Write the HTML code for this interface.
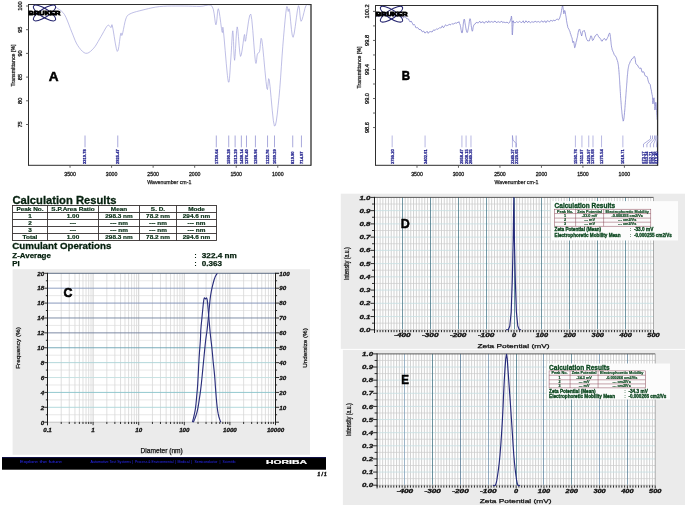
<!DOCTYPE html>
<html><head><meta charset="utf-8"><style>
html,body{margin:0;padding:0;background:#fff;}
body{width:685px;height:507px;overflow:hidden;}
svg{display:block;will-change:transform;}
text{font-family:"Liberation Sans", sans-serif;}
</style></head><body>
<svg width="685" height="507" viewBox="0 0 685 507">
<rect x="0" y="0" width="685" height="507" fill="#fff"/>
<polyline points="55,7.2 55.18,7.22 55.39,7.18 55.71,7.22 56.22,7.46 57,8 58.15,8.77 59.61,9.7 61.25,10.9 62.92,12.49 64.5,14.6 66,17.47 67.51,21.02 69,24.89 70.44,28.7 71.8,32.1 73.02,35.1 74.12,37.94 75.19,40.6 76.32,43.06 77.6,45.3 79.07,47.44 80.68,49.5 82.36,51.29 84.05,52.62 85.7,53.3 87.32,53.22 88.94,52.52 90.56,51.34 92.15,49.85 93.7,48.2 95.22,46.27 96.7,43.96 98.16,41.45 99.6,38.9 101,36.5 102.42,34.04 103.84,31.42 105.22,28.92 106.5,26.84 107.6,25.5 108.52,25.16 109.29,25.62 109.94,26.47 110.5,27.3 111,27.7 111.35,27.18 111.54,26 111.68,24.92 111.93,24.67 112.4,26 113.18,30.04 114.18,36.28 115.28,43.05 116.36,48.65 117.3,51.4 118.11,50.3 118.86,46.47 119.55,41.41 120.17,36.62 120.7,33.6 121.09,32.93 121.34,33.61 121.54,34.77 121.8,35.53 122.2,35 122.78,32.74 123.46,29.33 124.22,25.45 125.01,21.78 125.8,19 126.48,17.26 127.06,16.11 127.73,15.32 128.65,14.66 130,13.9 131.81,13.07 133.98,12.31 136.44,11.61 139.13,10.91 142,10.2 145.08,9.43 148.42,8.61 151.95,7.82 155.63,7.13 159.4,6.6 163.32,6.27 167.44,6.1 171.65,6.02 175.87,6.01 180,6 184.17,6.03 188.43,6.12 192.6,6.24 196.52,6.34 200,6.4 203.04,6.1 205.76,5.46 208.17,4.96 210.25,5.05 212,6.2 213.32,9.27 214.21,13.95 214.83,18.96 215.34,23 215.9,24.8 216.47,23.17 216.94,18.95 217.38,13.95 217.85,9.93 218.4,8.7 219.1,11.3 219.91,16.53 220.74,22.83 221.5,28.62 222.1,32.3 222.44,32.6 222.58,30.56 222.67,28.12 222.86,27.22 223.3,29.8 224.1,37.93 225.15,50.31 226.3,63.84 227.4,75.41 228.3,81.9 228.97,82.2 229.5,78.39 229.96,72.14 230.37,65.12 230.8,59 231.24,52.78 231.65,45.33 232.04,38.18 232.42,32.83 232.8,30.8 233.16,34.01 233.5,41.46 233.83,50.26 234.19,57.5 234.6,60.3 235.06,56.64 235.55,48.45 236.07,38.75 236.62,30.56 237.2,26.9 237.81,29.6 238.44,36.63 239.1,45.27 239.79,52.78 240.5,56.4 241.28,54.87 242.15,50.02 243.01,43.75 243.78,37.98 244.4,34.6 244.75,34.61 244.88,36.73 244.96,39.48 245.15,41.4 245.6,41 246.39,36.56 247.42,29.07 248.57,21.11 249.73,15.26 250.8,14.1 251.8,19.7 252.81,30.35 253.78,42.93 254.66,54.34 255.4,61.5 255.96,63.44 256.38,62.22 256.71,59.29 257.03,56.07 257.4,54 257.83,53.3 258.27,53 258.71,52.79 259.16,52.33 259.6,51.3 259.99,48.58 260.34,44.4 260.71,40.42 261.17,38.3 261.8,39.7 262.68,46.52 263.77,57.65 264.92,70.24 266.01,81.47 266.9,88.5 267.49,89.51 267.88,86.4 268.21,81.88 268.6,78.67 269.2,79.5 270.06,86.45 271.1,97.71 272.22,110.14 273.35,120.62 274.4,126 275.37,125.45 276.32,121.05 277.25,114.07 278.14,105.77 279,97.4 279.81,88.39 280.59,77.9 281.33,66.8 282.07,55.94 282.8,46.2 283.56,37.13 284.34,28.15 285.1,19.93 285.8,13.13 286.4,8.4 286.88,6.47 287.27,6.91 287.6,8.61 287.9,10.51 288.2,11.5 288.46,11.07 288.65,9.93 288.84,8.89 289.1,8.71 289.5,10.2 290.05,14.74 290.69,21.81 291.43,29.32 292.23,35.18 293.1,37.3 294.09,34 295.22,26.66 296.39,17.83 297.48,10.03 298.4,5.8 299.07,6.39 299.57,10.1 299.99,15.08 300.47,19.43 301.1,21.3 301.94,19.95 302.93,16.62 303.97,12.42 304.98,8.44 305.9,5.8 306.75,4.72 307.6,4.46 308.38,4.68 309.03,5.04 309.5,5.2" fill="none" stroke="#a6a6dc" stroke-width="0.72" stroke-linejoin="round"/>
<line x1="28.5" y1="4.5" x2="311" y2="4.5" stroke="#2e2e2e" stroke-width="1"/>
<line x1="28.5" y1="165.3" x2="311" y2="165.3" stroke="#2e2e2e" stroke-width="1"/>
<line x1="28.5" y1="4" x2="28.5" y2="165.8" stroke="#2e2e2e" stroke-width="1"/>
<line x1="311" y1="4" x2="311" y2="165.8" stroke="#2e2e2e" stroke-width="1.3"/>
<line x1="26" y1="6" x2="28.5" y2="6" stroke="#555" stroke-width="0.9"/>
<text x="22.2" y="6" font-size="5.6" fill="#1c1c1c" text-anchor="middle" stroke="#1c1c1c" stroke-width="0.3" transform="rotate(-90 22.2 6)">100</text>
<line x1="26" y1="29.7" x2="28.5" y2="29.7" stroke="#555" stroke-width="0.9"/>
<text x="22.2" y="29.7" font-size="5.6" fill="#1c1c1c" text-anchor="middle" stroke="#1c1c1c" stroke-width="0.3" transform="rotate(-90 22.2 29.7)">95</text>
<line x1="26" y1="53.4" x2="28.5" y2="53.4" stroke="#555" stroke-width="0.9"/>
<text x="22.2" y="53.4" font-size="5.6" fill="#1c1c1c" text-anchor="middle" stroke="#1c1c1c" stroke-width="0.3" transform="rotate(-90 22.2 53.4)">90</text>
<line x1="26" y1="77.1" x2="28.5" y2="77.1" stroke="#555" stroke-width="0.9"/>
<text x="22.2" y="77.1" font-size="5.6" fill="#1c1c1c" text-anchor="middle" stroke="#1c1c1c" stroke-width="0.3" transform="rotate(-90 22.2 77.1)">85</text>
<line x1="26" y1="100.8" x2="28.5" y2="100.8" stroke="#555" stroke-width="0.9"/>
<text x="22.2" y="100.8" font-size="5.6" fill="#1c1c1c" text-anchor="middle" stroke="#1c1c1c" stroke-width="0.3" transform="rotate(-90 22.2 100.8)">80</text>
<line x1="26" y1="124.5" x2="28.5" y2="124.5" stroke="#555" stroke-width="0.9"/>
<text x="22.2" y="124.5" font-size="5.6" fill="#1c1c1c" text-anchor="middle" stroke="#1c1c1c" stroke-width="0.3" transform="rotate(-90 22.2 124.5)">75</text>
<text x="15.2" y="65.5" font-size="5.5" fill="#1c1c1c" text-anchor="middle" textLength="42" lengthAdjust="spacingAndGlyphs" stroke="#1c1c1c" stroke-width="0.25" transform="rotate(-90 15.2 65.5)">Transmittance [%]</text>
<line x1="70.04" y1="165.3" x2="70.04" y2="167.8" stroke="#555" stroke-width="0.9"/>
<text x="70.04" y="175.9" font-size="5.7" fill="#1c1c1c" text-anchor="middle" textLength="11.6" lengthAdjust="spacingAndGlyphs" stroke="#1c1c1c" stroke-width="0.3">3500</text>
<line x1="111.59" y1="165.3" x2="111.59" y2="167.8" stroke="#555" stroke-width="0.9"/>
<text x="111.59" y="175.9" font-size="5.7" fill="#1c1c1c" text-anchor="middle" textLength="11.6" lengthAdjust="spacingAndGlyphs" stroke="#1c1c1c" stroke-width="0.3">3000</text>
<line x1="153.13" y1="165.3" x2="153.13" y2="167.8" stroke="#555" stroke-width="0.9"/>
<text x="153.13" y="175.9" font-size="5.7" fill="#1c1c1c" text-anchor="middle" textLength="11.6" lengthAdjust="spacingAndGlyphs" stroke="#1c1c1c" stroke-width="0.3">2500</text>
<line x1="194.68" y1="165.3" x2="194.68" y2="167.8" stroke="#555" stroke-width="0.9"/>
<text x="194.68" y="175.9" font-size="5.7" fill="#1c1c1c" text-anchor="middle" textLength="11.6" lengthAdjust="spacingAndGlyphs" stroke="#1c1c1c" stroke-width="0.3">2000</text>
<line x1="236.22" y1="165.3" x2="236.22" y2="167.8" stroke="#555" stroke-width="0.9"/>
<text x="236.22" y="175.9" font-size="5.7" fill="#1c1c1c" text-anchor="middle" textLength="11.6" lengthAdjust="spacingAndGlyphs" stroke="#1c1c1c" stroke-width="0.3">1500</text>
<line x1="277.76" y1="165.3" x2="277.76" y2="167.8" stroke="#555" stroke-width="0.9"/>
<text x="277.76" y="175.9" font-size="5.7" fill="#1c1c1c" text-anchor="middle" textLength="11.6" lengthAdjust="spacingAndGlyphs" stroke="#1c1c1c" stroke-width="0.3">1000</text>
<text x="169.3" y="184.3" font-size="5.4" fill="#1c1c1c" text-anchor="middle" textLength="44" lengthAdjust="spacingAndGlyphs" stroke="#1c1c1c" stroke-width="0.25">Wavenumber cm-1</text>
<line x1="85.02" y1="135.5" x2="85.02" y2="147.3" stroke="#8c8cd0" stroke-width="0.75"/>
<text x="86.47" y="163.9" font-size="4.1" fill="#1e1e8c" font-weight="bold" textLength="14.56" lengthAdjust="spacingAndGlyphs" stroke="#1e1e8c" stroke-width="0.25" transform="rotate(-90 86.47 163.9)">3319.78</text>
<line x1="117.78" y1="135.5" x2="117.78" y2="147.3" stroke="#8c8cd0" stroke-width="0.75"/>
<text x="119.23" y="163.9" font-size="4.1" fill="#1e1e8c" font-weight="bold" textLength="14.56" lengthAdjust="spacingAndGlyphs" stroke="#1e1e8c" stroke-width="0.25" transform="rotate(-90 119.23 163.9)">2925.47</text>
<line x1="216.31" y1="135.5" x2="216.31" y2="147.3" stroke="#8c8cd0" stroke-width="0.75"/>
<text x="217.76" y="163.9" font-size="4.1" fill="#1e1e8c" font-weight="bold" textLength="14.56" lengthAdjust="spacingAndGlyphs" stroke="#1e1e8c" stroke-width="0.25" transform="rotate(-90 217.76 163.9)">1739.64</text>
<line x1="228.72" y1="135.5" x2="228.72" y2="147.3" stroke="#8c8cd0" stroke-width="0.75"/>
<text x="230.17" y="163.9" font-size="4.1" fill="#1e1e8c" font-weight="bold" textLength="14.56" lengthAdjust="spacingAndGlyphs" stroke="#1e1e8c" stroke-width="0.25" transform="rotate(-90 230.17 163.9)">1590.28</text>
<line x1="235.12" y1="135.5" x2="235.12" y2="147.3" stroke="#8c8cd0" stroke-width="0.75"/>
<text x="236.57" y="163.9" font-size="4.1" fill="#1e1e8c" font-weight="bold" textLength="14.56" lengthAdjust="spacingAndGlyphs" stroke="#1e1e8c" stroke-width="0.25" transform="rotate(-90 236.57 163.9)">1513.29</text>
<line x1="241.36" y1="135.5" x2="241.36" y2="147.3" stroke="#8c8cd0" stroke-width="0.75"/>
<text x="242.81" y="163.9" font-size="4.1" fill="#1e1e8c" font-weight="bold" textLength="14.56" lengthAdjust="spacingAndGlyphs" stroke="#1e1e8c" stroke-width="0.25" transform="rotate(-90 242.81 163.9)">1438.14</text>
<line x1="246.49" y1="135.5" x2="246.49" y2="147.3" stroke="#8c8cd0" stroke-width="0.75"/>
<text x="247.94" y="163.9" font-size="4.1" fill="#1e1e8c" font-weight="bold" textLength="14.56" lengthAdjust="spacingAndGlyphs" stroke="#1e1e8c" stroke-width="0.25" transform="rotate(-90 247.94 163.9)">1376.40</text>
<line x1="255.42" y1="135.5" x2="255.42" y2="147.3" stroke="#8c8cd0" stroke-width="0.75"/>
<text x="256.87" y="163.9" font-size="4.1" fill="#1e1e8c" font-weight="bold" textLength="14.56" lengthAdjust="spacingAndGlyphs" stroke="#1e1e8c" stroke-width="0.25" transform="rotate(-90 256.87 163.9)">1268.96</text>
<line x1="267.56" y1="135.5" x2="267.56" y2="147.3" stroke="#8c8cd0" stroke-width="0.75"/>
<text x="269.01" y="163.9" font-size="4.1" fill="#1e1e8c" font-weight="bold" textLength="14.56" lengthAdjust="spacingAndGlyphs" stroke="#1e1e8c" stroke-width="0.25" transform="rotate(-90 269.01 163.9)">1122.76</text>
<line x1="274.5" y1="135.5" x2="274.5" y2="147.3" stroke="#8c8cd0" stroke-width="0.75"/>
<text x="275.95" y="163.9" font-size="4.1" fill="#1e1e8c" font-weight="bold" textLength="14.56" lengthAdjust="spacingAndGlyphs" stroke="#1e1e8c" stroke-width="0.25" transform="rotate(-90 275.95 163.9)">1039.29</text>
<line x1="292.73" y1="135.5" x2="292.73" y2="147.3" stroke="#8c8cd0" stroke-width="0.75"/>
<text x="294.18" y="163.9" font-size="4.1" fill="#1e1e8c" font-weight="bold" textLength="12.48" lengthAdjust="spacingAndGlyphs" stroke="#1e1e8c" stroke-width="0.25" transform="rotate(-90 294.18 163.9)">819.90</text>
<line x1="301.45" y1="135.5" x2="301.45" y2="147.3" stroke="#8c8cd0" stroke-width="0.75"/>
<text x="302.9" y="163.9" font-size="4.1" fill="#1e1e8c" font-weight="bold" textLength="12.48" lengthAdjust="spacingAndGlyphs" stroke="#1e1e8c" stroke-width="0.25" transform="rotate(-90 302.9 163.9)">714.97</text>
<g fill="none" stroke="#23236e" stroke-width="1.05"><ellipse cx="44.5" cy="13" rx="13" ry="4.2" transform="rotate(33 44.5 13)"/><ellipse cx="44.5" cy="13" rx="13" ry="4.2" transform="rotate(-33 44.5 13)"/></g>
<text x="28.6" y="14.8" font-size="5.8" fill="#000" font-weight="bold" textLength="31.9" lengthAdjust="spacingAndGlyphs" stroke="#000" stroke-width="0.8">BRUKER</text>
<text x="48.8" y="81.4" font-size="13.6" fill="#000" font-weight="bold" stroke="#000" stroke-width="0.5">A</text>
<polyline points="376,17 376.37,16.79 376.81,15.71 377.38,15.67 378.07,16.21 378.94,16.91 380,15.16 381.37,16.51 383.04,14.97 383.96,15.65 384.88,16.09 385.81,14.48 386.74,14.41 388.5,15.37 390,14.66 391.22,15.86 392.27,14.36 393.21,14.25 394.1,15.54 395.01,15.25 396,14.8 397.12,16.12 398.31,15.61 399.52,15.66 400.69,17.32 401.77,15.45 402.7,16.36 403.43,17.72 403.99,17.45 404.46,17.14 404.9,16.25 405.39,16.43 406,17.87 406.75,18.78 407.59,18.76 408.48,18.99 409.37,20.88 410.23,22.08 411,20.95 411.68,22.08 412.31,23.17 412.89,24.19 413.46,25.19 414.02,24.35 414.6,25.1 415.15,25.62 415.66,27.53 416.16,27.96 416.7,27.54 417.33,27.56 418.1,28.02 419.02,29.5 420.07,29.54 421.21,29.99 422.4,31.88 423.61,31.04 424.8,32.95 425.95,32.56 427.08,31.25 428.23,33.34 429.43,31.76 430.71,31.62 432.1,32 433.58,29.87 435.12,30.39 436.74,28.64 437.61,29.35 438.47,28.7 439.39,27.77 440.31,27.95 441.31,27.75 442.3,25.83 443.46,27.78 444.62,26.28 445.51,24.75 446.4,25.63 447.29,25.54 448.22,25.12 449.15,24.22 450.08,24.86 450.97,24.54 451.86,23.63 452.76,24.02 453.93,23.93 455.11,22.81 456.01,23.18 456.9,23.13 458.03,21.9 458.66,22.39 458.96,22.03 459.09,21.74 459.21,22.25 459.5,23.49 459.93,23.91 460.14,25.12 460.35,25.55 460.56,26.73 460.77,27.78 460.98,29.32 461.19,30.31 461.6,32.48 462,33.06 462.37,32.42 462.55,30.94 462.73,29.94 462.84,28.83 462.95,27.17 463.07,26.63 463.19,24.79 463.3,23.89 463.42,22.86 463.6,21.81 463.79,20.19 464.2,19.19 464.66,20.03 464.9,22.31 465.15,23.8 465.32,24.91 465.49,25.59 465.66,26.71 465.84,27.94 466.01,28.78 466.19,30.07 466.44,30.6 466.7,31.76 467.2,32.53 467.68,31.54 467.93,30.2 468.17,29.29 468.33,28.62 468.48,27.5 468.64,26.58 468.8,25.46 468.96,24.46 469.11,23.22 469.34,21.5 469.56,19.9 470,18.67 470.41,19.22 470.59,20.33 470.78,21.61 470.9,22.51 471.02,23.86 471.14,24.95 471.26,25.65 471.39,27.04 471.51,27.55 471.7,28.87 471.89,29.93 472.3,31.24 472.64,30.57 472.87,29.41 473.12,27.09 473.31,26.78 473.51,25.87 474.16,24.51 475.2,23.91 476.72,21.97 477.67,23.1 478.63,22.61 479.72,21.15 480.81,22.83 481.96,22.1 483.11,21.71 484.27,23.31 485.42,21.73 486.51,21.48 487.6,22.95 488.65,20.8 489.7,22.32 490.77,21.94 491.84,21.47 492.91,22.32 493.98,21.94 495.02,20.91 496.07,22.4 497.08,22.46 498.1,21.46 499.05,22.19 500,22.39 500.92,21.73 501.85,21.31 502.77,22.74 503.69,22.04 505.45,22.63 507.07,22.18 508.47,23.24 509.6,22.52 510.39,20.42 510.88,18.84 511.02,18.85 511.16,17.76 511.31,16.52 511.43,16.07 511.6,16.79 511.69,17.51 511.79,19.17 511.83,20.09 511.88,21.16 511.92,21.97 511.94,22.69 511.97,24.36 511.99,24.88 512.01,26.56 512.03,27.47 512.05,28.05 512.07,29.28 512.09,30.27 512.12,31.87 512.15,32.41 512.18,34 512.3,34.92 512.44,34.51 512.52,33.46 512.6,32.57 512.65,31.45 512.7,30.58 512.76,29.25 512.81,28.23 512.87,27.27 512.93,26.21 513.02,25.01 513.11,23.19 513.3,20.88 513.25,20.76 512.9,21.61 512.56,21.54 512.54,22.14 513.15,21.55 514.7,22.69 515.64,22.54 516.58,21.52 517.51,22.24 518.49,22.24 519.46,21.39 520.43,21.78 521.4,22.87 522.31,21.81 523.21,20.79 524.12,22.92 525.02,22.38 525.93,20.76 526.87,21.99 527.81,22.55 528.75,21.04 529.69,22.29 530.63,22.69 531.74,21.76 532.85,22.04 533.96,22.28 535.07,21.18 536,21.76 536.94,22.24 537.87,21.62 538.8,21.59 539.83,22.43 540.85,21.59 541.88,20.75 542.81,22.16 543.74,21.92 544.68,20.74 545.95,22.67 547.21,20.69 548.36,21.2 549.5,21.88 550.53,20.39 551.56,20.57 552.48,21.29 553.4,20.02 554.97,20.82 556.25,19.57 557.29,19.07 558.17,19.88 558.95,19.53 559.7,17.92 560.04,16.86 560.37,15.63 560.64,15.15 560.91,13.95 561.14,12.71 561.36,11.85 561.54,10.46 561.73,8.98 561.9,8.55 562.07,7.54 562.4,5.81 562.71,5.59 562.97,7.25 563.09,7.98 563.2,8.98 563.3,9.78 563.4,10.43 563.6,12.53 563.8,13.79 563.99,13.26 564.14,12.91 564.29,11.88 564.45,11.18 564.64,10.45 564.9,10.78 565.21,12.09 565.37,13.02 565.54,14.46 565.66,14.62 565.79,15.79 565.91,16.14 566.05,17.05 566.19,17.89 566.33,18.95 566.48,20.35 566.63,21.1 566.79,22.13 567.04,23.45 567.3,24.77 567.61,26.23 567.92,27.63 568.28,28.03 568.64,28.92 569.03,29.54 569.41,30.59 569.79,31.15 570.17,32.57 570.51,33.94 570.85,34.55 571.4,36.6 571.79,37.44 572.08,38.15 572.29,39.49 572.46,40.84 572.62,41.85 572.8,42.55 572.99,42.65 573.16,42.52 573.32,42.33 573.47,41.72 573.63,41.31 573.8,42.04 573.97,42.36 574.13,44.11 574.29,45.36 574.46,46.47 574.66,47.71 574.9,47.55 575.18,46.61 575.49,45.18 575.82,43.92 575.99,42.44 576.17,42.16 576.35,41.09 576.53,40.92 576.9,38.77 577.29,37.51 577.5,36.25 577.71,35.44 577.92,34.01 578.14,32.72 578.56,30.77 578.95,29.78 579.3,29.31 579.59,28.98 579.85,29.62 580.08,30.94 580.29,31.4 580.5,32.67 580.7,32.66 580.9,33.46 581.1,34.07 581.28,34.88 581.46,34.96 581.63,35.95 581.8,35.32 581.95,35.2 582.09,34.34 582.22,33.05 582.36,32.29 582.51,31.59 582.7,31.2 582.92,31.24 583.17,31 583.44,30.92 583.72,31.21 584.01,30.87 584.3,30.45 584.6,31.61 584.9,31.91 585.21,33.09 585.53,34.99 585.86,36.87 586.2,37.57 586.54,38.79 586.89,39.77 587.24,40 587.61,40.8 588,40.83 588.4,40.82 588.85,40.88 589.33,40.89 589.84,39.15 590.33,37.65 590.8,35.9 591.2,35.85 591.51,36.34 591.75,36.94 591.96,38.06 592.17,39.26 592.44,40.49 592.8,40.35 593.28,40.03 593.86,38.62 594.48,37.35 595.12,35.86 595.74,35.59 596.3,34.65 596.8,34.22 597.26,34.25 597.69,35.08 598.12,35.61 598.55,36.79 599,37.45 599.46,37.51 599.93,37.98 600.39,38.87 600.86,39.39 601.33,40.84 601.8,41.04 602.28,41.13 602.76,39.83 603.25,39.6 603.73,39.18 604.18,38.43 604.6,38.65 604.97,39.44 605.29,39.51 605.58,39.78 605.88,40.35 606.21,39.5 606.6,39.62 607.06,38.7 607.57,37.57 608.12,36.65 608.67,34.58 609.21,33.47 609.7,33.02 610.13,34.61 610.33,36.46 610.52,37.28 610.64,38.92 610.76,39.85 610.89,41.25 611.02,42.25 611.14,43.87 611.27,44.74 611.41,45.67 611.56,46.92 611.7,47.43 611.95,48.27 612.2,50.04 612.51,50.4 612.81,51.22 613.51,52.63 614.26,54.73 615.01,55.8 615.7,56.31 616.3,57.56 616.76,58.79 617.11,60.24 617.42,60.55 617.73,61.93 617.92,62.56 618.1,63.85 618.23,64.31 618.35,65.26 618.48,66.35 618.6,67 618.68,67.95 618.76,69.38 618.84,69.76 618.92,70.9 618.99,71.78 619.07,72.64 619.15,74.08 619.23,74.74 619.29,75.42 619.35,76.45 619.41,77.63 619.47,78.42 619.53,79.5 619.59,80.51 619.65,81.33 619.71,82.25 619.77,83.14 619.83,84.62 619.9,85.03 619.96,85.95 620.02,87.02 620.08,88.01 620.14,88.88 620.2,89.92 620.26,91.39 620.32,91.8 620.38,92.98 620.44,93.77 620.5,95.3 620.56,96.09 620.62,97.13 620.68,98.04 620.74,98.3 620.81,99.75 620.88,100.39 620.95,100.97 621.02,101.86 621.09,102.66 621.16,104.2 621.22,104.72 621.29,105.49 621.36,106.45 621.43,107.78 621.5,108.38 621.57,109.38 621.66,110.04 621.75,110.57 621.84,111.54 621.93,112.69 622.03,113.74 622.12,114.17 622.21,115.04 622.3,116.28 622.4,117.24 622.66,118.16 622.93,119.61 623.2,121.15 623.46,120.79 623.73,119.61 623.99,118.11 624.1,117.24 624.2,116.19 624.3,115.47 624.4,114.08 624.5,112.61 624.6,112.04 624.7,110.91 624.8,109.93 624.88,108.5 624.95,107.66 625.03,107.09 625.1,105.49 625.17,104.85 625.25,103.95 625.32,102.59 625.4,101.87 625.47,100.77 625.54,99.94 625.62,99.34 625.69,98.3 625.75,97.06 625.82,96.08 625.89,95.42 625.96,94.34 626.02,93.56 626.09,92.67 626.16,91.94 626.23,90.83 626.29,89.82 626.36,89.23 626.43,88.44 626.5,87.4 626.57,86.4 626.65,85.45 626.72,84.22 626.79,83.24 626.86,82.79 626.94,81.84 627.01,80.44 627.08,79.59 627.15,78.56 627.23,77.81 627.32,76.22 627.42,75.08 627.52,74.48 627.61,73.73 627.71,72.27 627.81,71.22 627.9,70.84 628,69.56 628.19,68.62 628.38,67.46 628.58,66.53 628.77,65.45 629.03,64.58 629.29,64.03 629.55,63.56 630.31,61.53 631.04,60.54 631.71,59.09 632.3,58.58 632.79,58.67 633.19,57.92 633.54,57.25 633.85,56.73 634.16,56.36 634.5,56.64 634.8,57.57 635.04,58.1 635.28,59.58 635.58,62.25 636,63.91 636.6,64.57 637.45,65.05 638.52,67.07 639.71,68.6 640.93,67.9 642.09,72.23 643.1,71.73 643.96,72.05 644.73,74.87 645.44,76.06 646.12,76.55 646.8,76.28 647.5,77.67 647.88,79.62 648.26,81.13 648.66,82.23 649.06,83.46 649.46,83.54 649.86,83.97 650.23,84.59 650.61,86.93 650.94,89.01 651.27,89.8 651.53,91.75 651.8,93.09 651.98,94.39 652.17,94.73 652.29,95.14 652.4,96.46 652.48,96.65 652.55,97.73 652.6,99.8 652.65,100.7 652.7,102.52 652.75,102.78 652.9,103.85 653.08,103.39 653.27,101.66 653.46,100.79 653.55,100.2 653.64,98.61 653.82,98.51 654,97.81 654.17,99.55 654.26,100.24 654.34,102.62 654.42,102.53 654.51,104.21 654.59,105.35 654.67,106.63 654.75,108.35 654.83,109.91 655,110.02 655.16,109.57 655.33,107.73 655.49,106.64 655.65,104.13 655.82,102.29 656,103.37 656.2,104.34 656.28,105.2 656.35,106.3 656.43,107.49 656.51,108.49 656.58,109.99 656.66,110.28 656.74,112.86 656.81,113.92 656.88,115.27 656.94,115.82 657.01,116.89 657.07,117.47 657.13,119.76 657.2,119.8" fill="none" stroke="#7c7cca" stroke-width="0.75" stroke-linejoin="round"/>
<line x1="375.5" y1="5.5" x2="657.6" y2="5.5" stroke="#2e2e2e" stroke-width="1"/>
<line x1="375.5" y1="165.3" x2="657.6" y2="165.3" stroke="#2e2e2e" stroke-width="1"/>
<line x1="375.5" y1="5" x2="375.5" y2="165.8" stroke="#2e2e2e" stroke-width="1"/>
<line x1="657.6" y1="5" x2="657.6" y2="165.8" stroke="#2e2e2e" stroke-width="1.3"/>
<line x1="373" y1="11.4" x2="375.5" y2="11.4" stroke="#555" stroke-width="0.9"/>
<text x="369.2" y="11.4" font-size="5.6" fill="#1c1c1c" text-anchor="middle" stroke="#1c1c1c" stroke-width="0.3" transform="rotate(-90 369.2 11.4)">100.2</text>
<line x1="373" y1="25.92" x2="375.5" y2="25.92" stroke="#555" stroke-width="0.9"/>
<line x1="373" y1="40.44" x2="375.5" y2="40.44" stroke="#555" stroke-width="0.9"/>
<text x="369.2" y="40.44" font-size="5.6" fill="#1c1c1c" text-anchor="middle" stroke="#1c1c1c" stroke-width="0.3" transform="rotate(-90 369.2 40.44)">99.8</text>
<line x1="373" y1="54.96" x2="375.5" y2="54.96" stroke="#555" stroke-width="0.9"/>
<line x1="373" y1="69.48" x2="375.5" y2="69.48" stroke="#555" stroke-width="0.9"/>
<text x="369.2" y="69.48" font-size="5.6" fill="#1c1c1c" text-anchor="middle" stroke="#1c1c1c" stroke-width="0.3" transform="rotate(-90 369.2 69.48)">99.4</text>
<line x1="373" y1="84" x2="375.5" y2="84" stroke="#555" stroke-width="0.9"/>
<line x1="373" y1="98.52" x2="375.5" y2="98.52" stroke="#555" stroke-width="0.9"/>
<text x="369.2" y="98.52" font-size="5.6" fill="#1c1c1c" text-anchor="middle" stroke="#1c1c1c" stroke-width="0.3" transform="rotate(-90 369.2 98.52)">99.0</text>
<line x1="373" y1="113.04" x2="375.5" y2="113.04" stroke="#555" stroke-width="0.9"/>
<line x1="373" y1="127.56" x2="375.5" y2="127.56" stroke="#555" stroke-width="0.9"/>
<text x="369.2" y="127.56" font-size="5.6" fill="#1c1c1c" text-anchor="middle" stroke="#1c1c1c" stroke-width="0.3" transform="rotate(-90 369.2 127.56)">98.6</text>
<text x="360.8" y="67.5" font-size="5.5" fill="#1c1c1c" text-anchor="middle" textLength="42" lengthAdjust="spacingAndGlyphs" stroke="#1c1c1c" stroke-width="0.25" transform="rotate(-90 360.8 67.5)">Transmittance [%]</text>
<line x1="416.99" y1="165.3" x2="416.99" y2="167.8" stroke="#555" stroke-width="0.9"/>
<text x="416.99" y="175.9" font-size="5.7" fill="#1c1c1c" text-anchor="middle" textLength="11.6" lengthAdjust="spacingAndGlyphs" stroke="#1c1c1c" stroke-width="0.3">3500</text>
<line x1="458.47" y1="165.3" x2="458.47" y2="167.8" stroke="#555" stroke-width="0.9"/>
<text x="458.47" y="175.9" font-size="5.7" fill="#1c1c1c" text-anchor="middle" textLength="11.6" lengthAdjust="spacingAndGlyphs" stroke="#1c1c1c" stroke-width="0.3">3000</text>
<line x1="499.96" y1="165.3" x2="499.96" y2="167.8" stroke="#555" stroke-width="0.9"/>
<text x="499.96" y="175.9" font-size="5.7" fill="#1c1c1c" text-anchor="middle" textLength="11.6" lengthAdjust="spacingAndGlyphs" stroke="#1c1c1c" stroke-width="0.3">2500</text>
<line x1="541.44" y1="165.3" x2="541.44" y2="167.8" stroke="#555" stroke-width="0.9"/>
<text x="541.44" y="175.9" font-size="5.7" fill="#1c1c1c" text-anchor="middle" textLength="11.6" lengthAdjust="spacingAndGlyphs" stroke="#1c1c1c" stroke-width="0.3">2000</text>
<line x1="582.93" y1="165.3" x2="582.93" y2="167.8" stroke="#555" stroke-width="0.9"/>
<text x="582.93" y="175.9" font-size="5.7" fill="#1c1c1c" text-anchor="middle" textLength="11.6" lengthAdjust="spacingAndGlyphs" stroke="#1c1c1c" stroke-width="0.3">1500</text>
<line x1="624.41" y1="165.3" x2="624.41" y2="167.8" stroke="#555" stroke-width="0.9"/>
<text x="624.41" y="175.9" font-size="5.7" fill="#1c1c1c" text-anchor="middle" textLength="11.6" lengthAdjust="spacingAndGlyphs" stroke="#1c1c1c" stroke-width="0.3">1000</text>
<text x="516.5" y="184.3" font-size="5.4" fill="#1c1c1c" text-anchor="middle" textLength="44" lengthAdjust="spacingAndGlyphs" stroke="#1c1c1c" stroke-width="0.25">Wavenumber cm-1</text>
<line x1="392.16" y1="135.5" x2="392.16" y2="147.3" stroke="#a0a0da" stroke-width="0.75"/>
<text x="393.61" y="163.9" font-size="4.1" fill="#1e1e8c" textLength="14.56" lengthAdjust="spacingAndGlyphs" stroke="#1e1e8c" stroke-width="0.3" transform="rotate(-90 393.61 163.9)">3799.20</text>
<line x1="425.07" y1="135.5" x2="425.07" y2="147.3" stroke="#a0a0da" stroke-width="0.75"/>
<text x="426.52" y="163.9" font-size="4.1" fill="#1e1e8c" textLength="14.56" lengthAdjust="spacingAndGlyphs" stroke="#1e1e8c" stroke-width="0.3" transform="rotate(-90 426.52 163.9)">3402.61</text>
<line x1="461.92" y1="135.5" x2="461.92" y2="147.3" stroke="#a0a0da" stroke-width="0.75"/>
<text x="463.37" y="163.9" font-size="4.1" fill="#1e1e8c" textLength="14.56" lengthAdjust="spacingAndGlyphs" stroke="#1e1e8c" stroke-width="0.3" transform="rotate(-90 463.37 163.9)">2958.47</text>
<line x1="466.09" y1="135.5" x2="466.09" y2="147.3" stroke="#a0a0da" stroke-width="0.75"/>
<text x="467.54" y="163.9" font-size="4.1" fill="#1e1e8c" textLength="14.56" lengthAdjust="spacingAndGlyphs" stroke="#1e1e8c" stroke-width="0.3" transform="rotate(-90 467.54 163.9)">2908.15</text>
<line x1="470.97" y1="135.5" x2="470.97" y2="147.3" stroke="#a0a0da" stroke-width="0.75"/>
<text x="472.42" y="163.9" font-size="4.1" fill="#1e1e8c" textLength="14.56" lengthAdjust="spacingAndGlyphs" stroke="#1e1e8c" stroke-width="0.3" transform="rotate(-90 472.42 163.9)">2849.35</text>
<line x1="512.45" y1="135.5" x2="512.45" y2="147.3" stroke="#a0a0da" stroke-width="0.75"/>
<text x="513.9" y="163.9" font-size="4.1" fill="#1e1e8c" textLength="14.56" lengthAdjust="spacingAndGlyphs" stroke="#1e1e8c" stroke-width="0.3" transform="rotate(-90 513.9 163.9)">2349.37</text>
<line x1="575.4" y1="135.5" x2="575.4" y2="147.3" stroke="#a0a0da" stroke-width="0.75"/>
<text x="576.85" y="163.9" font-size="4.1" fill="#1e1e8c" textLength="14.56" lengthAdjust="spacingAndGlyphs" stroke="#1e1e8c" stroke-width="0.3" transform="rotate(-90 576.85 163.9)">1590.76</text>
<line x1="581.93" y1="135.5" x2="581.93" y2="147.3" stroke="#a0a0da" stroke-width="0.75"/>
<text x="583.38" y="163.9" font-size="4.1" fill="#1e1e8c" textLength="14.56" lengthAdjust="spacingAndGlyphs" stroke="#1e1e8c" stroke-width="0.3" transform="rotate(-90 583.38 163.9)">1511.97</text>
<line x1="588.74" y1="135.5" x2="588.74" y2="147.3" stroke="#a0a0da" stroke-width="0.75"/>
<text x="590.19" y="163.9" font-size="4.1" fill="#1e1e8c" textLength="14.56" lengthAdjust="spacingAndGlyphs" stroke="#1e1e8c" stroke-width="0.3" transform="rotate(-90 590.19 163.9)">1429.97</text>
<line x1="592.99" y1="135.5" x2="592.99" y2="147.3" stroke="#a0a0da" stroke-width="0.75"/>
<text x="594.44" y="163.9" font-size="4.1" fill="#1e1e8c" textLength="14.56" lengthAdjust="spacingAndGlyphs" stroke="#1e1e8c" stroke-width="0.3" transform="rotate(-90 594.44 163.9)">1378.68</text>
<line x1="601.55" y1="135.5" x2="601.55" y2="147.3" stroke="#a0a0da" stroke-width="0.75"/>
<text x="603" y="163.9" font-size="4.1" fill="#1e1e8c" textLength="14.56" lengthAdjust="spacingAndGlyphs" stroke="#1e1e8c" stroke-width="0.3" transform="rotate(-90 603 163.9)">1275.54</text>
<line x1="622.86" y1="135.5" x2="622.86" y2="147.3" stroke="#a0a0da" stroke-width="0.75"/>
<text x="624.31" y="163.9" font-size="4.1" fill="#1e1e8c" textLength="14.56" lengthAdjust="spacingAndGlyphs" stroke="#1e1e8c" stroke-width="0.3" transform="rotate(-90 624.31 163.9)">1018.71</text>
<polyline points="512.45,135.5 512.95,140 516.15,143.5 516.15,147.3" fill="none" stroke="#8c8cd0" stroke-width="0.75"/>
<line x1="516.15" y1="135.5" x2="516.15" y2="147.3" stroke="#8c8cd0" stroke-width="0.75"/>
<text x="517.6" y="163.9" font-size="4.1" fill="#1e1e8c" textLength="14.56" lengthAdjust="spacingAndGlyphs" stroke="#1e1e8c" stroke-width="0.3" transform="rotate(-90 517.6 163.9)">2329.65</text>
<polyline points="650.5,135.5 650.5,139 643.5,144 643.5,147.3" fill="none" stroke="#8c8cd0" stroke-width="0.7"/>
<text x="644.95" y="163.7" font-size="4.1" fill="#1e1e8c" textLength="12.3" lengthAdjust="spacingAndGlyphs" stroke="#1e1e8c" stroke-width="0.3" transform="rotate(-90 644.95 163.7)">673.17</text>
<polyline points="652.5,135.5 652.5,139 646.9,144 646.9,147.3" fill="none" stroke="#8c8cd0" stroke-width="0.7"/>
<text x="648.35" y="163.7" font-size="4.1" fill="#1e1e8c" textLength="12.3" lengthAdjust="spacingAndGlyphs" stroke="#1e1e8c" stroke-width="0.3" transform="rotate(-90 648.35 163.7)">663.34</text>
<polyline points="654.5,135.5 654.5,139 650.3,144 650.3,147.3" fill="none" stroke="#8c8cd0" stroke-width="0.7"/>
<text x="651.75" y="163.7" font-size="4.1" fill="#1e1e8c" textLength="12.3" lengthAdjust="spacingAndGlyphs" stroke="#1e1e8c" stroke-width="0.3" transform="rotate(-90 651.75 163.7)">652.71</text>
<polyline points="655.8,135.5 655.8,139 653.6,144 653.6,147.3" fill="none" stroke="#8c8cd0" stroke-width="0.7"/>
<text x="655.05" y="163.7" font-size="4.1" fill="#1e1e8c" textLength="12.3" lengthAdjust="spacingAndGlyphs" stroke="#1e1e8c" stroke-width="0.3" transform="rotate(-90 655.05 163.7)">632.35</text>
<polyline points="657,135.5 657,139 656.6,144 656.6,147.3" fill="none" stroke="#8c8cd0" stroke-width="0.7"/>
<text x="658.05" y="163.7" font-size="4.1" fill="#1e1e8c" textLength="12.3" lengthAdjust="spacingAndGlyphs" stroke="#1e1e8c" stroke-width="0.3" transform="rotate(-90 658.05 163.7)">612.40</text>
<g fill="none" stroke="#23236e" stroke-width="1.05"><ellipse cx="391.5" cy="14.2" rx="13" ry="4.2" transform="rotate(33 391.5 14.2)"/><ellipse cx="391.5" cy="14.2" rx="13" ry="4.2" transform="rotate(-33 391.5 14.2)"/></g>
<text x="376" y="15.9" font-size="5.8" fill="#000" font-weight="bold" textLength="31.5" lengthAdjust="spacingAndGlyphs" stroke="#000" stroke-width="0.8">BRUKER</text>
<text x="401.8" y="79.8" font-size="12.4" fill="#000" font-weight="bold" textLength="8.3" lengthAdjust="spacingAndGlyphs" stroke="#000" stroke-width="0.55">B</text>
<text x="12.4" y="203.7" font-size="11" fill="#05200e" font-weight="bold" textLength="104" lengthAdjust="spacingAndGlyphs" stroke="#05200e" stroke-width="0.3">Calculation Results</text>
<rect x="12.5" y="205.5" width="204" height="35" fill="#fff" stroke="#363030" stroke-width="0.9"/>
<line x1="47.5" y1="205.5" x2="47.5" y2="240.5" stroke="#363030" stroke-width="0.9"/>
<line x1="98.5" y1="205.5" x2="98.5" y2="240.5" stroke="#363030" stroke-width="0.9"/>
<line x1="139.5" y1="205.5" x2="139.5" y2="240.5" stroke="#363030" stroke-width="0.9"/>
<line x1="176.5" y1="205.5" x2="176.5" y2="240.5" stroke="#363030" stroke-width="0.9"/>
<line x1="12.5" y1="212.5" x2="216.5" y2="212.5" stroke="#363030" stroke-width="0.9"/>
<line x1="12.5" y1="219.5" x2="216.5" y2="219.5" stroke="#363030" stroke-width="0.9"/>
<line x1="12.5" y1="226.5" x2="216.5" y2="226.5" stroke="#363030" stroke-width="0.9"/>
<line x1="12.5" y1="233.5" x2="216.5" y2="233.5" stroke="#363030" stroke-width="0.9"/>
<text x="30" y="211.1" font-size="5.8" fill="#082e16" font-weight="bold" text-anchor="middle" textLength="27.03" lengthAdjust="spacingAndGlyphs" stroke="#082e16" stroke-width="0.2">Peak No.</text>
<text x="73" y="211.1" font-size="5.8" fill="#082e16" font-weight="bold" text-anchor="middle" textLength="43.28" lengthAdjust="spacingAndGlyphs" stroke="#082e16" stroke-width="0.2">S.P.Area Ratio</text>
<text x="119" y="211.1" font-size="5.8" fill="#082e16" font-weight="bold" text-anchor="middle" textLength="16.36" lengthAdjust="spacingAndGlyphs" stroke="#082e16" stroke-width="0.2">Mean</text>
<text x="158" y="211.1" font-size="5.8" fill="#082e16" font-weight="bold" text-anchor="middle" textLength="14.22" lengthAdjust="spacingAndGlyphs" stroke="#082e16" stroke-width="0.2">S. D.</text>
<text x="196.5" y="211.1" font-size="5.8" fill="#082e16" font-weight="bold" text-anchor="middle" textLength="16.71" lengthAdjust="spacingAndGlyphs" stroke="#082e16" stroke-width="0.2">Mode</text>
<text x="30" y="218.1" font-size="5.8" fill="#082e16" font-weight="bold" text-anchor="middle" textLength="3.56" lengthAdjust="spacingAndGlyphs" stroke="#082e16" stroke-width="0.2">1</text>
<text x="73" y="218.1" font-size="5.8" fill="#082e16" font-weight="bold" text-anchor="middle" textLength="12.46" lengthAdjust="spacingAndGlyphs" stroke="#082e16" stroke-width="0.2">1.00</text>
<text x="119" y="218.1" font-size="5.8" fill="#082e16" font-weight="bold" text-anchor="middle" textLength="27.39" lengthAdjust="spacingAndGlyphs" stroke="#082e16" stroke-width="0.2">298.3 nm</text>
<text x="158" y="218.1" font-size="5.8" fill="#082e16" font-weight="bold" text-anchor="middle" textLength="23.83" lengthAdjust="spacingAndGlyphs" stroke="#082e16" stroke-width="0.2">78.2 nm</text>
<text x="196.5" y="218.1" font-size="5.8" fill="#082e16" font-weight="bold" text-anchor="middle" textLength="27.39" lengthAdjust="spacingAndGlyphs" stroke="#082e16" stroke-width="0.2">294.6 nm</text>
<text x="30" y="225.1" font-size="5.8" fill="#082e16" font-weight="bold" text-anchor="middle" textLength="3.56" lengthAdjust="spacingAndGlyphs" stroke="#082e16" stroke-width="0.2">2</text>
<text x="73" y="225.1" font-size="5.8" fill="#082e16" font-weight="bold" text-anchor="middle" textLength="6.39" lengthAdjust="spacingAndGlyphs" stroke="#082e16" stroke-width="0.2">---</text>
<text x="119" y="225.1" font-size="5.8" fill="#082e16" font-weight="bold" text-anchor="middle" textLength="17.77" lengthAdjust="spacingAndGlyphs" stroke="#082e16" stroke-width="0.2">--- nm</text>
<text x="158" y="225.1" font-size="5.8" fill="#082e16" font-weight="bold" text-anchor="middle" textLength="17.77" lengthAdjust="spacingAndGlyphs" stroke="#082e16" stroke-width="0.2">--- nm</text>
<text x="196.5" y="225.1" font-size="5.8" fill="#082e16" font-weight="bold" text-anchor="middle" textLength="17.77" lengthAdjust="spacingAndGlyphs" stroke="#082e16" stroke-width="0.2">--- nm</text>
<text x="30" y="232.1" font-size="5.8" fill="#082e16" font-weight="bold" text-anchor="middle" textLength="3.56" lengthAdjust="spacingAndGlyphs" stroke="#082e16" stroke-width="0.2">3</text>
<text x="73" y="232.1" font-size="5.8" fill="#082e16" font-weight="bold" text-anchor="middle" textLength="6.39" lengthAdjust="spacingAndGlyphs" stroke="#082e16" stroke-width="0.2">---</text>
<text x="119" y="232.1" font-size="5.8" fill="#082e16" font-weight="bold" text-anchor="middle" textLength="17.77" lengthAdjust="spacingAndGlyphs" stroke="#082e16" stroke-width="0.2">--- nm</text>
<text x="158" y="232.1" font-size="5.8" fill="#082e16" font-weight="bold" text-anchor="middle" textLength="17.77" lengthAdjust="spacingAndGlyphs" stroke="#082e16" stroke-width="0.2">--- nm</text>
<text x="196.5" y="232.1" font-size="5.8" fill="#082e16" font-weight="bold" text-anchor="middle" textLength="17.77" lengthAdjust="spacingAndGlyphs" stroke="#082e16" stroke-width="0.2">--- nm</text>
<text x="30" y="239.1" font-size="5.8" fill="#082e16" font-weight="bold" text-anchor="middle" textLength="14.81" lengthAdjust="spacingAndGlyphs" stroke="#082e16" stroke-width="0.2">Total</text>
<text x="73" y="239.1" font-size="5.8" fill="#082e16" font-weight="bold" text-anchor="middle" textLength="12.46" lengthAdjust="spacingAndGlyphs" stroke="#082e16" stroke-width="0.2">1.00</text>
<text x="119" y="239.1" font-size="5.8" fill="#082e16" font-weight="bold" text-anchor="middle" textLength="27.39" lengthAdjust="spacingAndGlyphs" stroke="#082e16" stroke-width="0.2">298.3 nm</text>
<text x="158" y="239.1" font-size="5.8" fill="#082e16" font-weight="bold" text-anchor="middle" textLength="23.83" lengthAdjust="spacingAndGlyphs" stroke="#082e16" stroke-width="0.2">78.2 nm</text>
<text x="196.5" y="239.1" font-size="5.8" fill="#082e16" font-weight="bold" text-anchor="middle" textLength="27.39" lengthAdjust="spacingAndGlyphs" stroke="#082e16" stroke-width="0.2">294.6 nm</text>
<text x="12.3" y="249.2" font-size="9.6" fill="#05200e" font-weight="bold" textLength="99" lengthAdjust="spacingAndGlyphs" stroke="#05200e" stroke-width="0.3">Cumulant Operations</text>
<text x="12.3" y="257.9" font-size="7.8" fill="#05200e" font-weight="bold" textLength="38.5" lengthAdjust="spacingAndGlyphs" stroke="#05200e" stroke-width="0.25">Z-Average</text>
<text x="12.3" y="266.3" font-size="7.8" fill="#05200e" font-weight="bold" stroke="#05200e" stroke-width="0.25">PI</text>
<text x="194.2" y="257.9" font-size="7.6" fill="#05200e" font-weight="bold">:</text>
<text x="201.8" y="257.9" font-size="7.8" fill="#05200e" font-weight="bold" textLength="35" lengthAdjust="spacingAndGlyphs" stroke="#05200e" stroke-width="0.25">322.4 nm</text>
<text x="194.2" y="266.3" font-size="7.6" fill="#05200e" font-weight="bold">:</text>
<text x="201.8" y="266.3" font-size="7.8" fill="#05200e" font-weight="bold" textLength="20.2" lengthAdjust="spacingAndGlyphs" stroke="#05200e" stroke-width="0.25">0.363</text>
<rect x="12.6" y="269.2" width="297.4" height="185.6" fill="#ebebeb"/>
<rect x="47.5" y="273.3" width="228" height="148.9" fill="#fff"/>
<line x1="61.23" y1="273.3" x2="61.23" y2="422.2" stroke="#cdcdcd" stroke-width="0.65"/>
<line x1="69.26" y1="273.3" x2="69.26" y2="422.2" stroke="#cdcdcd" stroke-width="0.65"/>
<line x1="74.95" y1="273.3" x2="74.95" y2="422.2" stroke="#cdcdcd" stroke-width="0.65"/>
<line x1="79.37" y1="273.3" x2="79.37" y2="422.2" stroke="#cdcdcd" stroke-width="0.65"/>
<line x1="82.98" y1="273.3" x2="82.98" y2="422.2" stroke="#cdcdcd" stroke-width="0.65"/>
<line x1="86.04" y1="273.3" x2="86.04" y2="422.2" stroke="#cdcdcd" stroke-width="0.65"/>
<line x1="88.68" y1="273.3" x2="88.68" y2="422.2" stroke="#cdcdcd" stroke-width="0.65"/>
<line x1="91.01" y1="273.3" x2="91.01" y2="422.2" stroke="#cdcdcd" stroke-width="0.65"/>
<line x1="106.83" y1="273.3" x2="106.83" y2="422.2" stroke="#cdcdcd" stroke-width="0.65"/>
<line x1="114.86" y1="273.3" x2="114.86" y2="422.2" stroke="#cdcdcd" stroke-width="0.65"/>
<line x1="120.55" y1="273.3" x2="120.55" y2="422.2" stroke="#cdcdcd" stroke-width="0.65"/>
<line x1="124.97" y1="273.3" x2="124.97" y2="422.2" stroke="#cdcdcd" stroke-width="0.65"/>
<line x1="128.58" y1="273.3" x2="128.58" y2="422.2" stroke="#cdcdcd" stroke-width="0.65"/>
<line x1="131.64" y1="273.3" x2="131.64" y2="422.2" stroke="#cdcdcd" stroke-width="0.65"/>
<line x1="134.28" y1="273.3" x2="134.28" y2="422.2" stroke="#cdcdcd" stroke-width="0.65"/>
<line x1="136.61" y1="273.3" x2="136.61" y2="422.2" stroke="#cdcdcd" stroke-width="0.65"/>
<line x1="152.43" y1="273.3" x2="152.43" y2="422.2" stroke="#cdcdcd" stroke-width="0.65"/>
<line x1="160.46" y1="273.3" x2="160.46" y2="422.2" stroke="#cdcdcd" stroke-width="0.65"/>
<line x1="166.15" y1="273.3" x2="166.15" y2="422.2" stroke="#cdcdcd" stroke-width="0.65"/>
<line x1="170.57" y1="273.3" x2="170.57" y2="422.2" stroke="#cdcdcd" stroke-width="0.65"/>
<line x1="174.18" y1="273.3" x2="174.18" y2="422.2" stroke="#cdcdcd" stroke-width="0.65"/>
<line x1="177.24" y1="273.3" x2="177.24" y2="422.2" stroke="#cdcdcd" stroke-width="0.65"/>
<line x1="179.88" y1="273.3" x2="179.88" y2="422.2" stroke="#cdcdcd" stroke-width="0.65"/>
<line x1="182.21" y1="273.3" x2="182.21" y2="422.2" stroke="#cdcdcd" stroke-width="0.65"/>
<line x1="198.03" y1="273.3" x2="198.03" y2="422.2" stroke="#cdcdcd" stroke-width="0.65"/>
<line x1="206.06" y1="273.3" x2="206.06" y2="422.2" stroke="#cdcdcd" stroke-width="0.65"/>
<line x1="211.75" y1="273.3" x2="211.75" y2="422.2" stroke="#cdcdcd" stroke-width="0.65"/>
<line x1="216.17" y1="273.3" x2="216.17" y2="422.2" stroke="#cdcdcd" stroke-width="0.65"/>
<line x1="219.78" y1="273.3" x2="219.78" y2="422.2" stroke="#cdcdcd" stroke-width="0.65"/>
<line x1="222.84" y1="273.3" x2="222.84" y2="422.2" stroke="#cdcdcd" stroke-width="0.65"/>
<line x1="225.48" y1="273.3" x2="225.48" y2="422.2" stroke="#cdcdcd" stroke-width="0.65"/>
<line x1="227.81" y1="273.3" x2="227.81" y2="422.2" stroke="#cdcdcd" stroke-width="0.65"/>
<line x1="243.63" y1="273.3" x2="243.63" y2="422.2" stroke="#cdcdcd" stroke-width="0.65"/>
<line x1="251.66" y1="273.3" x2="251.66" y2="422.2" stroke="#cdcdcd" stroke-width="0.65"/>
<line x1="257.35" y1="273.3" x2="257.35" y2="422.2" stroke="#cdcdcd" stroke-width="0.65"/>
<line x1="261.77" y1="273.3" x2="261.77" y2="422.2" stroke="#cdcdcd" stroke-width="0.65"/>
<line x1="265.38" y1="273.3" x2="265.38" y2="422.2" stroke="#cdcdcd" stroke-width="0.65"/>
<line x1="268.44" y1="273.3" x2="268.44" y2="422.2" stroke="#cdcdcd" stroke-width="0.65"/>
<line x1="271.08" y1="273.3" x2="271.08" y2="422.2" stroke="#cdcdcd" stroke-width="0.65"/>
<line x1="273.41" y1="273.3" x2="273.41" y2="422.2" stroke="#cdcdcd" stroke-width="0.65"/>
<line x1="93.1" y1="273.3" x2="93.1" y2="422.2" stroke="#c2c2c2" stroke-width="0.75"/>
<line x1="138.7" y1="273.3" x2="138.7" y2="422.2" stroke="#c2c2c2" stroke-width="0.75"/>
<line x1="184.3" y1="273.3" x2="184.3" y2="422.2" stroke="#c2c2c2" stroke-width="0.75"/>
<line x1="229.9" y1="273.3" x2="229.9" y2="422.2" stroke="#c2c2c2" stroke-width="0.75"/>
<line x1="47.5" y1="414.75" x2="275.5" y2="414.75" stroke="#d8d8d8" stroke-width="0.6"/>
<line x1="47.5" y1="399.87" x2="275.5" y2="399.87" stroke="#d8d8d8" stroke-width="0.6"/>
<line x1="47.5" y1="384.98" x2="275.5" y2="384.98" stroke="#d8d8d8" stroke-width="0.6"/>
<line x1="47.5" y1="370.08" x2="275.5" y2="370.08" stroke="#d8d8d8" stroke-width="0.6"/>
<line x1="47.5" y1="355.19" x2="275.5" y2="355.19" stroke="#d8d8d8" stroke-width="0.6"/>
<line x1="47.5" y1="340.31" x2="275.5" y2="340.31" stroke="#d8d8d8" stroke-width="0.6"/>
<line x1="47.5" y1="325.41" x2="275.5" y2="325.41" stroke="#d8d8d8" stroke-width="0.6"/>
<line x1="47.5" y1="310.52" x2="275.5" y2="310.52" stroke="#d8d8d8" stroke-width="0.6"/>
<line x1="47.5" y1="295.63" x2="275.5" y2="295.63" stroke="#d8d8d8" stroke-width="0.6"/>
<line x1="47.5" y1="280.75" x2="275.5" y2="280.75" stroke="#d8d8d8" stroke-width="0.6"/>
<line x1="47.5" y1="288.19" x2="275.5" y2="288.19" stroke="#8496bc" stroke-width="0.9"/>
<line x1="47.5" y1="303.08" x2="275.5" y2="303.08" stroke="#7b8db4" stroke-width="0.9"/>
<line x1="47.5" y1="317.97" x2="275.5" y2="317.97" stroke="#72839f" stroke-width="0.9"/>
<line x1="47.5" y1="332.86" x2="275.5" y2="332.86" stroke="#6e7d9a" stroke-width="0.9"/>
<line x1="47.5" y1="347.75" x2="275.5" y2="347.75" stroke="#6aa3b2" stroke-width="0.9"/>
<line x1="47.5" y1="362.64" x2="275.5" y2="362.64" stroke="#a9d3d7" stroke-width="0.9"/>
<line x1="47.5" y1="377.53" x2="275.5" y2="377.53" stroke="#c2e0e1" stroke-width="0.9"/>
<line x1="47.5" y1="392.42" x2="275.5" y2="392.42" stroke="#86c2c9" stroke-width="0.9"/>
<line x1="47.5" y1="407.31" x2="275.5" y2="407.31" stroke="#aad6da" stroke-width="0.9"/>
<line x1="47.5" y1="273.3" x2="279" y2="273.3" stroke="#4f5f78" stroke-width="0.9"/>
<line x1="47.5" y1="422.2" x2="275.5" y2="422.2" stroke="#bdbdbd" stroke-width="0.9"/>
<line x1="47.5" y1="272.8" x2="47.5" y2="425.2" stroke="#1a1a1a" stroke-width="1"/>
<line x1="275.5" y1="272.8" x2="275.5" y2="424.7" stroke="#1a1a1a" stroke-width="1"/>
<line x1="44.3" y1="422.2" x2="47.5" y2="422.2" stroke="#1a1a1a" stroke-width="0.9"/>
<text x="44.2" y="424.5" font-size="6.2" fill="#111" font-weight="bold" font-style="italic" text-anchor="end" stroke="#111" stroke-width="0.3">0</text>
<line x1="275.5" y1="422.2" x2="279" y2="422.2" stroke="#1a1a1a" stroke-width="0.9"/>
<line x1="45.9" y1="414.75" x2="47.5" y2="414.75" stroke="#1a1a1a" stroke-width="0.9"/>
<line x1="275.5" y1="414.75" x2="277.1" y2="414.75" stroke="#1a1a1a" stroke-width="0.9"/>
<line x1="44.3" y1="407.31" x2="47.5" y2="407.31" stroke="#1a1a1a" stroke-width="0.9"/>
<text x="44.2" y="409.61" font-size="6.2" fill="#111" font-weight="bold" font-style="italic" text-anchor="end" stroke="#111" stroke-width="0.3">2</text>
<line x1="275.5" y1="407.31" x2="279" y2="407.31" stroke="#1a1a1a" stroke-width="0.9"/>
<text x="279.3" y="409.61" font-size="6.2" fill="#111" font-weight="bold" font-style="italic" stroke="#111" stroke-width="0.3">10</text>
<line x1="45.9" y1="399.87" x2="47.5" y2="399.87" stroke="#1a1a1a" stroke-width="0.9"/>
<line x1="275.5" y1="399.87" x2="277.1" y2="399.87" stroke="#1a1a1a" stroke-width="0.9"/>
<line x1="44.3" y1="392.42" x2="47.5" y2="392.42" stroke="#1a1a1a" stroke-width="0.9"/>
<text x="44.2" y="394.72" font-size="6.2" fill="#111" font-weight="bold" font-style="italic" text-anchor="end" stroke="#111" stroke-width="0.3">4</text>
<line x1="275.5" y1="392.42" x2="279" y2="392.42" stroke="#1a1a1a" stroke-width="0.9"/>
<text x="279.3" y="394.72" font-size="6.2" fill="#111" font-weight="bold" font-style="italic" stroke="#111" stroke-width="0.3">20</text>
<line x1="45.9" y1="384.98" x2="47.5" y2="384.98" stroke="#1a1a1a" stroke-width="0.9"/>
<line x1="275.5" y1="384.98" x2="277.1" y2="384.98" stroke="#1a1a1a" stroke-width="0.9"/>
<line x1="44.3" y1="377.53" x2="47.5" y2="377.53" stroke="#1a1a1a" stroke-width="0.9"/>
<text x="44.2" y="379.83" font-size="6.2" fill="#111" font-weight="bold" font-style="italic" text-anchor="end" stroke="#111" stroke-width="0.3">6</text>
<line x1="275.5" y1="377.53" x2="279" y2="377.53" stroke="#1a1a1a" stroke-width="0.9"/>
<text x="279.3" y="379.83" font-size="6.2" fill="#111" font-weight="bold" font-style="italic" stroke="#111" stroke-width="0.3">30</text>
<line x1="45.9" y1="370.08" x2="47.5" y2="370.08" stroke="#1a1a1a" stroke-width="0.9"/>
<line x1="275.5" y1="370.08" x2="277.1" y2="370.08" stroke="#1a1a1a" stroke-width="0.9"/>
<line x1="44.3" y1="362.64" x2="47.5" y2="362.64" stroke="#1a1a1a" stroke-width="0.9"/>
<text x="44.2" y="364.94" font-size="6.2" fill="#111" font-weight="bold" font-style="italic" text-anchor="end" stroke="#111" stroke-width="0.3">8</text>
<line x1="275.5" y1="362.64" x2="279" y2="362.64" stroke="#1a1a1a" stroke-width="0.9"/>
<text x="279.3" y="364.94" font-size="6.2" fill="#111" font-weight="bold" font-style="italic" stroke="#111" stroke-width="0.3">40</text>
<line x1="45.9" y1="355.19" x2="47.5" y2="355.19" stroke="#1a1a1a" stroke-width="0.9"/>
<line x1="275.5" y1="355.19" x2="277.1" y2="355.19" stroke="#1a1a1a" stroke-width="0.9"/>
<line x1="44.3" y1="347.75" x2="47.5" y2="347.75" stroke="#1a1a1a" stroke-width="0.9"/>
<text x="44.2" y="350.05" font-size="6.2" fill="#111" font-weight="bold" font-style="italic" text-anchor="end" stroke="#111" stroke-width="0.3">10</text>
<line x1="275.5" y1="347.75" x2="279" y2="347.75" stroke="#1a1a1a" stroke-width="0.9"/>
<text x="279.3" y="350.05" font-size="6.2" fill="#111" font-weight="bold" font-style="italic" stroke="#111" stroke-width="0.3">50</text>
<line x1="45.9" y1="340.31" x2="47.5" y2="340.31" stroke="#1a1a1a" stroke-width="0.9"/>
<line x1="275.5" y1="340.31" x2="277.1" y2="340.31" stroke="#1a1a1a" stroke-width="0.9"/>
<line x1="44.3" y1="332.86" x2="47.5" y2="332.86" stroke="#1a1a1a" stroke-width="0.9"/>
<text x="44.2" y="335.16" font-size="6.2" fill="#111" font-weight="bold" font-style="italic" text-anchor="end" stroke="#111" stroke-width="0.3">12</text>
<line x1="275.5" y1="332.86" x2="279" y2="332.86" stroke="#1a1a1a" stroke-width="0.9"/>
<text x="279.3" y="335.16" font-size="6.2" fill="#111" font-weight="bold" font-style="italic" stroke="#111" stroke-width="0.3">60</text>
<line x1="45.9" y1="325.41" x2="47.5" y2="325.41" stroke="#1a1a1a" stroke-width="0.9"/>
<line x1="275.5" y1="325.41" x2="277.1" y2="325.41" stroke="#1a1a1a" stroke-width="0.9"/>
<line x1="44.3" y1="317.97" x2="47.5" y2="317.97" stroke="#1a1a1a" stroke-width="0.9"/>
<text x="44.2" y="320.27" font-size="6.2" fill="#111" font-weight="bold" font-style="italic" text-anchor="end" stroke="#111" stroke-width="0.3">14</text>
<line x1="275.5" y1="317.97" x2="279" y2="317.97" stroke="#1a1a1a" stroke-width="0.9"/>
<text x="279.3" y="320.27" font-size="6.2" fill="#111" font-weight="bold" font-style="italic" stroke="#111" stroke-width="0.3">70</text>
<line x1="45.9" y1="310.52" x2="47.5" y2="310.52" stroke="#1a1a1a" stroke-width="0.9"/>
<line x1="275.5" y1="310.52" x2="277.1" y2="310.52" stroke="#1a1a1a" stroke-width="0.9"/>
<line x1="44.3" y1="303.08" x2="47.5" y2="303.08" stroke="#1a1a1a" stroke-width="0.9"/>
<text x="44.2" y="305.38" font-size="6.2" fill="#111" font-weight="bold" font-style="italic" text-anchor="end" stroke="#111" stroke-width="0.3">16</text>
<line x1="275.5" y1="303.08" x2="279" y2="303.08" stroke="#1a1a1a" stroke-width="0.9"/>
<text x="279.3" y="305.38" font-size="6.2" fill="#111" font-weight="bold" font-style="italic" stroke="#111" stroke-width="0.3">80</text>
<line x1="45.9" y1="295.63" x2="47.5" y2="295.63" stroke="#1a1a1a" stroke-width="0.9"/>
<line x1="275.5" y1="295.63" x2="277.1" y2="295.63" stroke="#1a1a1a" stroke-width="0.9"/>
<line x1="44.3" y1="288.19" x2="47.5" y2="288.19" stroke="#1a1a1a" stroke-width="0.9"/>
<text x="44.2" y="290.49" font-size="6.2" fill="#111" font-weight="bold" font-style="italic" text-anchor="end" stroke="#111" stroke-width="0.3">18</text>
<line x1="275.5" y1="288.19" x2="279" y2="288.19" stroke="#1a1a1a" stroke-width="0.9"/>
<text x="279.3" y="290.49" font-size="6.2" fill="#111" font-weight="bold" font-style="italic" stroke="#111" stroke-width="0.3">90</text>
<line x1="45.9" y1="280.75" x2="47.5" y2="280.75" stroke="#1a1a1a" stroke-width="0.9"/>
<line x1="275.5" y1="280.75" x2="277.1" y2="280.75" stroke="#1a1a1a" stroke-width="0.9"/>
<line x1="44.3" y1="273.3" x2="47.5" y2="273.3" stroke="#1a1a1a" stroke-width="0.9"/>
<text x="44.2" y="275.6" font-size="6.2" fill="#111" font-weight="bold" font-style="italic" text-anchor="end" stroke="#111" stroke-width="0.3">20</text>
<line x1="275.5" y1="273.3" x2="279" y2="273.3" stroke="#1a1a1a" stroke-width="0.9"/>
<text x="279.3" y="275.6" font-size="6.2" fill="#111" font-weight="bold" font-style="italic" stroke="#111" stroke-width="0.3">100</text>
<line x1="47.5" y1="421.9" x2="47.5" y2="425.2" stroke="#1a1a1a" stroke-width="0.9"/>
<line x1="61.23" y1="421.9" x2="61.23" y2="424" stroke="#1a1a1a" stroke-width="0.9"/>
<line x1="69.26" y1="421.9" x2="69.26" y2="424" stroke="#1a1a1a" stroke-width="0.9"/>
<line x1="74.95" y1="421.9" x2="74.95" y2="424" stroke="#1a1a1a" stroke-width="0.9"/>
<line x1="79.37" y1="421.9" x2="79.37" y2="424" stroke="#1a1a1a" stroke-width="0.9"/>
<line x1="82.98" y1="421.9" x2="82.98" y2="424" stroke="#1a1a1a" stroke-width="0.9"/>
<line x1="86.04" y1="421.9" x2="86.04" y2="424" stroke="#1a1a1a" stroke-width="0.9"/>
<line x1="88.68" y1="421.9" x2="88.68" y2="424" stroke="#1a1a1a" stroke-width="0.9"/>
<line x1="91.01" y1="421.9" x2="91.01" y2="424" stroke="#1a1a1a" stroke-width="0.9"/>
<line x1="93.1" y1="421.9" x2="93.1" y2="425.2" stroke="#1a1a1a" stroke-width="0.9"/>
<line x1="106.83" y1="421.9" x2="106.83" y2="424" stroke="#1a1a1a" stroke-width="0.9"/>
<line x1="114.86" y1="421.9" x2="114.86" y2="424" stroke="#1a1a1a" stroke-width="0.9"/>
<line x1="120.55" y1="421.9" x2="120.55" y2="424" stroke="#1a1a1a" stroke-width="0.9"/>
<line x1="124.97" y1="421.9" x2="124.97" y2="424" stroke="#1a1a1a" stroke-width="0.9"/>
<line x1="128.58" y1="421.9" x2="128.58" y2="424" stroke="#1a1a1a" stroke-width="0.9"/>
<line x1="131.64" y1="421.9" x2="131.64" y2="424" stroke="#1a1a1a" stroke-width="0.9"/>
<line x1="134.28" y1="421.9" x2="134.28" y2="424" stroke="#1a1a1a" stroke-width="0.9"/>
<line x1="136.61" y1="421.9" x2="136.61" y2="424" stroke="#1a1a1a" stroke-width="0.9"/>
<line x1="138.7" y1="421.9" x2="138.7" y2="425.2" stroke="#1a1a1a" stroke-width="0.9"/>
<line x1="152.43" y1="421.9" x2="152.43" y2="424" stroke="#1a1a1a" stroke-width="0.9"/>
<line x1="160.46" y1="421.9" x2="160.46" y2="424" stroke="#1a1a1a" stroke-width="0.9"/>
<line x1="166.15" y1="421.9" x2="166.15" y2="424" stroke="#1a1a1a" stroke-width="0.9"/>
<line x1="170.57" y1="421.9" x2="170.57" y2="424" stroke="#1a1a1a" stroke-width="0.9"/>
<line x1="174.18" y1="421.9" x2="174.18" y2="424" stroke="#1a1a1a" stroke-width="0.9"/>
<line x1="177.24" y1="421.9" x2="177.24" y2="424" stroke="#1a1a1a" stroke-width="0.9"/>
<line x1="179.88" y1="421.9" x2="179.88" y2="424" stroke="#1a1a1a" stroke-width="0.9"/>
<line x1="182.21" y1="421.9" x2="182.21" y2="424" stroke="#1a1a1a" stroke-width="0.9"/>
<line x1="184.3" y1="421.9" x2="184.3" y2="425.2" stroke="#1a1a1a" stroke-width="0.9"/>
<line x1="198.03" y1="421.9" x2="198.03" y2="424" stroke="#1a1a1a" stroke-width="0.9"/>
<line x1="206.06" y1="421.9" x2="206.06" y2="424" stroke="#1a1a1a" stroke-width="0.9"/>
<line x1="211.75" y1="421.9" x2="211.75" y2="424" stroke="#1a1a1a" stroke-width="0.9"/>
<line x1="216.17" y1="421.9" x2="216.17" y2="424" stroke="#1a1a1a" stroke-width="0.9"/>
<line x1="219.78" y1="421.9" x2="219.78" y2="424" stroke="#1a1a1a" stroke-width="0.9"/>
<line x1="222.84" y1="421.9" x2="222.84" y2="424" stroke="#1a1a1a" stroke-width="0.9"/>
<line x1="225.48" y1="421.9" x2="225.48" y2="424" stroke="#1a1a1a" stroke-width="0.9"/>
<line x1="227.81" y1="421.9" x2="227.81" y2="424" stroke="#1a1a1a" stroke-width="0.9"/>
<line x1="229.9" y1="421.9" x2="229.9" y2="425.2" stroke="#1a1a1a" stroke-width="0.9"/>
<line x1="243.63" y1="421.9" x2="243.63" y2="424" stroke="#1a1a1a" stroke-width="0.9"/>
<line x1="251.66" y1="421.9" x2="251.66" y2="424" stroke="#1a1a1a" stroke-width="0.9"/>
<line x1="257.35" y1="421.9" x2="257.35" y2="424" stroke="#1a1a1a" stroke-width="0.9"/>
<line x1="261.77" y1="421.9" x2="261.77" y2="424" stroke="#1a1a1a" stroke-width="0.9"/>
<line x1="265.38" y1="421.9" x2="265.38" y2="424" stroke="#1a1a1a" stroke-width="0.9"/>
<line x1="268.44" y1="421.9" x2="268.44" y2="424" stroke="#1a1a1a" stroke-width="0.9"/>
<line x1="271.08" y1="421.9" x2="271.08" y2="424" stroke="#1a1a1a" stroke-width="0.9"/>
<line x1="273.41" y1="421.9" x2="273.41" y2="424" stroke="#1a1a1a" stroke-width="0.9"/>
<line x1="275.5" y1="422.2" x2="275.5" y2="425.2" stroke="#1a1a1a" stroke-width="0.8"/>
<text x="47.5" y="431.8" font-size="6.2" fill="#111" font-weight="bold" font-style="italic" text-anchor="middle" stroke="#111" stroke-width="0.3">0.1</text>
<text x="93.1" y="431.8" font-size="6.2" fill="#111" font-weight="bold" font-style="italic" text-anchor="middle" stroke="#111" stroke-width="0.3">1</text>
<text x="138.7" y="431.8" font-size="6.2" fill="#111" font-weight="bold" font-style="italic" text-anchor="middle" stroke="#111" stroke-width="0.3">10</text>
<text x="184.3" y="431.8" font-size="6.2" fill="#111" font-weight="bold" font-style="italic" text-anchor="middle" stroke="#111" stroke-width="0.3">100</text>
<text x="229.9" y="431.8" font-size="6.2" fill="#111" font-weight="bold" font-style="italic" text-anchor="middle" stroke="#111" stroke-width="0.3">1000</text>
<text x="275.5" y="431.8" font-size="6.2" fill="#111" font-weight="bold" font-style="italic" text-anchor="middle" stroke="#111" stroke-width="0.3">10000</text>
<text x="161.7" y="452.7" font-size="6.8" fill="#111" text-anchor="middle" textLength="42.2" lengthAdjust="spacingAndGlyphs" stroke="#111" stroke-width="0.25">Diameter (nm)</text>
<text x="19.9" y="348" font-size="6.2" fill="#111" text-anchor="middle" textLength="41.5" lengthAdjust="spacingAndGlyphs" stroke="#111" stroke-width="0.25" transform="rotate(-90 19.9 348)">Frequency (%)</text>
<text x="307.2" y="348" font-size="6.2" fill="#111" text-anchor="middle" textLength="39.5" lengthAdjust="spacingAndGlyphs" stroke="#111" stroke-width="0.25" transform="rotate(-90 307.2 348)">Undersize (%)</text>
<polyline points="192.4,422.2 192.81,420.68 193.41,418.47 194,416 194.55,413.41 195.1,410.56 195.6,407.4 196.01,403.82 196.36,399.93 196.7,396 197.03,392.67 197.34,389.31 197.7,384.3 198.14,376.21 198.63,366.46 199.1,357.7 199.57,350.86 200.04,345 200.4,340 200.57,336.2 200.64,333.25 200.8,330 201.11,326.17 201.52,322.03 202,317.3 202.59,311 203.26,304.11 203.9,299.2 204.46,297.79 204.98,298.37 205.5,299 206.03,298.43 206.57,297.91 207.1,299.2 207.64,303.46 208.17,309.54 208.7,315.7 209.2,321.49 209.69,327.37 210.2,333 210.77,338.21 211.36,343.16 211.9,348 212.36,352.76 212.77,357.41 213.2,362 213.67,366.43 214.14,370.8 214.6,375.5 215.01,380.82 215.39,386.47 215.8,392 216.24,397.45 216.71,402.77 217.2,407.4 217.7,411.03 218.23,413.95 218.8,416.5 219.51,418.86 220.27,420.85 220.8,422.2" fill="none" stroke="#2b2f7c" stroke-width="1.15" stroke-linejoin="round"/>
<polyline points="193.3,422.2 193.87,420.95 194.69,419.13 195.5,417 196.25,414.69 197,412.07 197.7,409.1 198.33,405.73 198.91,402.01 199.5,398 200.07,394.1 200.64,389.92 201.3,384.3 202.14,376.06 203.06,366.39 203.9,357.7 204.57,350.86 205.16,345 205.7,340 206.19,336.31 206.63,333.48 207.1,330 207.62,325.16 208.17,319.68 208.7,314.2 209.2,308.7 209.7,303.2 210.2,298.4 210.7,294.76 211.2,291.83 211.8,288.9 212.56,285.57 213.41,282.24 214.2,279.5 214.86,277.63 215.45,276.34 216,275.3 216.55,274.4 217.05,273.74 217.4,273.3" fill="none" stroke="#2b2f7c" stroke-width="1.15" stroke-linejoin="round"/>
<text x="63.6" y="297" font-size="13.4" fill="#000" font-weight="bold" textLength="8.9" lengthAdjust="spacingAndGlyphs" stroke="#000" stroke-width="0.6">C</text>
<rect x="2" y="457.1" width="324" height="12.6" fill="#000"/>
<line x1="2" y1="457.6" x2="326" y2="457.6" stroke="#101050" stroke-width="0.9"/>
<text x="20" y="463.4" font-size="4" fill="#2a2aff" textLength="42" lengthAdjust="spacingAndGlyphs">Explore the future</text>
<text x="90.6" y="463.4" font-size="3.9" fill="#2a2aff" textLength="40.4" lengthAdjust="spacingAndGlyphs">Automotive Test Systems</text>
<text x="132.3" y="463.4" font-size="3.9" fill="#2a2aff" textLength="1" lengthAdjust="spacingAndGlyphs">|</text>
<text x="135" y="463.4" font-size="3.9" fill="#2a2aff" textLength="38.5" lengthAdjust="spacingAndGlyphs">Process &amp; Environmental</text>
<text x="174.8" y="463.4" font-size="3.9" fill="#2a2aff" textLength="1" lengthAdjust="spacingAndGlyphs">|</text>
<text x="177.5" y="463.4" font-size="3.9" fill="#2a2aff" textLength="12.1" lengthAdjust="spacingAndGlyphs">Medical</text>
<text x="191.2" y="463.4" font-size="3.9" fill="#2a2aff" textLength="1" lengthAdjust="spacingAndGlyphs">|</text>
<text x="194.4" y="463.4" font-size="3.9" fill="#2a2aff" textLength="23.1" lengthAdjust="spacingAndGlyphs">Semiconductor</text>
<text x="219.5" y="463.4" font-size="3.9" fill="#2a2aff" textLength="1" lengthAdjust="spacingAndGlyphs">|</text>
<text x="222.6" y="463.4" font-size="3.9" fill="#2a2aff" textLength="13.4" lengthAdjust="spacingAndGlyphs">Scientific</text>
<text x="265.9" y="463.6" font-size="6.2" fill="#fff" font-weight="bold" textLength="41.1" lengthAdjust="spacingAndGlyphs" stroke="#fff" stroke-width="0.2">HORIBA</text>
<text x="326.6" y="476.4" font-size="4.8" fill="#111" font-weight="bold" font-style="italic" text-anchor="end" textLength="9" lengthAdjust="spacingAndGlyphs" stroke="#111" stroke-width="0.45">1 / 1</text>
<rect x="340.8" y="193.7" width="344.2" height="155.2" fill="#ebebeb"/>
<rect x="374.5" y="197.4" width="279" height="132.4" fill="#fff"/>
<line x1="377.29" y1="197.4" x2="377.29" y2="329.8" stroke="#bdbdbd" stroke-width="0.7"/>
<line x1="380.08" y1="197.4" x2="380.08" y2="329.8" stroke="#bdbdbd" stroke-width="0.7"/>
<line x1="382.87" y1="197.4" x2="382.87" y2="329.8" stroke="#bdbdbd" stroke-width="0.7"/>
<line x1="385.66" y1="197.4" x2="385.66" y2="329.8" stroke="#bdbdbd" stroke-width="0.7"/>
<line x1="388.45" y1="197.4" x2="388.45" y2="329.8" stroke="#bdbdbd" stroke-width="0.7"/>
<line x1="391.24" y1="197.4" x2="391.24" y2="329.8" stroke="#bdbdbd" stroke-width="0.7"/>
<line x1="394.03" y1="197.4" x2="394.03" y2="329.8" stroke="#bdbdbd" stroke-width="0.7"/>
<line x1="396.82" y1="197.4" x2="396.82" y2="329.8" stroke="#bdbdbd" stroke-width="0.7"/>
<line x1="399.61" y1="197.4" x2="399.61" y2="329.8" stroke="#bdbdbd" stroke-width="0.7"/>
<line x1="405.19" y1="197.4" x2="405.19" y2="329.8" stroke="#bdbdbd" stroke-width="0.7"/>
<line x1="407.98" y1="197.4" x2="407.98" y2="329.8" stroke="#bdbdbd" stroke-width="0.7"/>
<line x1="410.77" y1="197.4" x2="410.77" y2="329.8" stroke="#bdbdbd" stroke-width="0.7"/>
<line x1="413.56" y1="197.4" x2="413.56" y2="329.8" stroke="#bdbdbd" stroke-width="0.7"/>
<line x1="416.35" y1="197.4" x2="416.35" y2="329.8" stroke="#bdbdbd" stroke-width="0.7"/>
<line x1="419.14" y1="197.4" x2="419.14" y2="329.8" stroke="#bdbdbd" stroke-width="0.7"/>
<line x1="421.93" y1="197.4" x2="421.93" y2="329.8" stroke="#bdbdbd" stroke-width="0.7"/>
<line x1="424.72" y1="197.4" x2="424.72" y2="329.8" stroke="#bdbdbd" stroke-width="0.7"/>
<line x1="427.51" y1="197.4" x2="427.51" y2="329.8" stroke="#bdbdbd" stroke-width="0.7"/>
<line x1="433.09" y1="197.4" x2="433.09" y2="329.8" stroke="#bdbdbd" stroke-width="0.7"/>
<line x1="435.88" y1="197.4" x2="435.88" y2="329.8" stroke="#bdbdbd" stroke-width="0.7"/>
<line x1="438.67" y1="197.4" x2="438.67" y2="329.8" stroke="#bdbdbd" stroke-width="0.7"/>
<line x1="441.46" y1="197.4" x2="441.46" y2="329.8" stroke="#bdbdbd" stroke-width="0.7"/>
<line x1="444.25" y1="197.4" x2="444.25" y2="329.8" stroke="#bdbdbd" stroke-width="0.7"/>
<line x1="447.04" y1="197.4" x2="447.04" y2="329.8" stroke="#bdbdbd" stroke-width="0.7"/>
<line x1="449.83" y1="197.4" x2="449.83" y2="329.8" stroke="#bdbdbd" stroke-width="0.7"/>
<line x1="452.62" y1="197.4" x2="452.62" y2="329.8" stroke="#bdbdbd" stroke-width="0.7"/>
<line x1="455.41" y1="197.4" x2="455.41" y2="329.8" stroke="#bdbdbd" stroke-width="0.7"/>
<line x1="460.99" y1="197.4" x2="460.99" y2="329.8" stroke="#bdbdbd" stroke-width="0.7"/>
<line x1="463.78" y1="197.4" x2="463.78" y2="329.8" stroke="#bdbdbd" stroke-width="0.7"/>
<line x1="466.57" y1="197.4" x2="466.57" y2="329.8" stroke="#bdbdbd" stroke-width="0.7"/>
<line x1="469.36" y1="197.4" x2="469.36" y2="329.8" stroke="#bdbdbd" stroke-width="0.7"/>
<line x1="472.15" y1="197.4" x2="472.15" y2="329.8" stroke="#bdbdbd" stroke-width="0.7"/>
<line x1="474.94" y1="197.4" x2="474.94" y2="329.8" stroke="#bdbdbd" stroke-width="0.7"/>
<line x1="477.73" y1="197.4" x2="477.73" y2="329.8" stroke="#bdbdbd" stroke-width="0.7"/>
<line x1="480.52" y1="197.4" x2="480.52" y2="329.8" stroke="#bdbdbd" stroke-width="0.7"/>
<line x1="483.31" y1="197.4" x2="483.31" y2="329.8" stroke="#bdbdbd" stroke-width="0.7"/>
<line x1="488.89" y1="197.4" x2="488.89" y2="329.8" stroke="#bdbdbd" stroke-width="0.7"/>
<line x1="491.68" y1="197.4" x2="491.68" y2="329.8" stroke="#bdbdbd" stroke-width="0.7"/>
<line x1="494.47" y1="197.4" x2="494.47" y2="329.8" stroke="#bdbdbd" stroke-width="0.7"/>
<line x1="497.26" y1="197.4" x2="497.26" y2="329.8" stroke="#bdbdbd" stroke-width="0.7"/>
<line x1="500.05" y1="197.4" x2="500.05" y2="329.8" stroke="#bdbdbd" stroke-width="0.7"/>
<line x1="502.84" y1="197.4" x2="502.84" y2="329.8" stroke="#bdbdbd" stroke-width="0.7"/>
<line x1="505.63" y1="197.4" x2="505.63" y2="329.8" stroke="#bdbdbd" stroke-width="0.7"/>
<line x1="508.42" y1="197.4" x2="508.42" y2="329.8" stroke="#bdbdbd" stroke-width="0.7"/>
<line x1="511.21" y1="197.4" x2="511.21" y2="329.8" stroke="#bdbdbd" stroke-width="0.7"/>
<line x1="516.79" y1="197.4" x2="516.79" y2="329.8" stroke="#bdbdbd" stroke-width="0.7"/>
<line x1="519.58" y1="197.4" x2="519.58" y2="329.8" stroke="#bdbdbd" stroke-width="0.7"/>
<line x1="522.37" y1="197.4" x2="522.37" y2="329.8" stroke="#bdbdbd" stroke-width="0.7"/>
<line x1="525.16" y1="197.4" x2="525.16" y2="329.8" stroke="#bdbdbd" stroke-width="0.7"/>
<line x1="527.95" y1="197.4" x2="527.95" y2="329.8" stroke="#bdbdbd" stroke-width="0.7"/>
<line x1="530.74" y1="197.4" x2="530.74" y2="329.8" stroke="#bdbdbd" stroke-width="0.7"/>
<line x1="533.53" y1="197.4" x2="533.53" y2="329.8" stroke="#bdbdbd" stroke-width="0.7"/>
<line x1="536.32" y1="197.4" x2="536.32" y2="329.8" stroke="#bdbdbd" stroke-width="0.7"/>
<line x1="539.11" y1="197.4" x2="539.11" y2="329.8" stroke="#bdbdbd" stroke-width="0.7"/>
<line x1="544.69" y1="197.4" x2="544.69" y2="329.8" stroke="#bdbdbd" stroke-width="0.7"/>
<line x1="547.48" y1="197.4" x2="547.48" y2="329.8" stroke="#bdbdbd" stroke-width="0.7"/>
<line x1="550.27" y1="197.4" x2="550.27" y2="329.8" stroke="#bdbdbd" stroke-width="0.7"/>
<line x1="553.06" y1="197.4" x2="553.06" y2="329.8" stroke="#bdbdbd" stroke-width="0.7"/>
<line x1="555.85" y1="197.4" x2="555.85" y2="329.8" stroke="#bdbdbd" stroke-width="0.7"/>
<line x1="558.64" y1="197.4" x2="558.64" y2="329.8" stroke="#bdbdbd" stroke-width="0.7"/>
<line x1="561.43" y1="197.4" x2="561.43" y2="329.8" stroke="#bdbdbd" stroke-width="0.7"/>
<line x1="564.22" y1="197.4" x2="564.22" y2="329.8" stroke="#bdbdbd" stroke-width="0.7"/>
<line x1="567.01" y1="197.4" x2="567.01" y2="329.8" stroke="#bdbdbd" stroke-width="0.7"/>
<line x1="572.59" y1="197.4" x2="572.59" y2="329.8" stroke="#bdbdbd" stroke-width="0.7"/>
<line x1="575.38" y1="197.4" x2="575.38" y2="329.8" stroke="#bdbdbd" stroke-width="0.7"/>
<line x1="578.17" y1="197.4" x2="578.17" y2="329.8" stroke="#bdbdbd" stroke-width="0.7"/>
<line x1="580.96" y1="197.4" x2="580.96" y2="329.8" stroke="#bdbdbd" stroke-width="0.7"/>
<line x1="583.75" y1="197.4" x2="583.75" y2="329.8" stroke="#bdbdbd" stroke-width="0.7"/>
<line x1="586.54" y1="197.4" x2="586.54" y2="329.8" stroke="#bdbdbd" stroke-width="0.7"/>
<line x1="589.33" y1="197.4" x2="589.33" y2="329.8" stroke="#bdbdbd" stroke-width="0.7"/>
<line x1="592.12" y1="197.4" x2="592.12" y2="329.8" stroke="#bdbdbd" stroke-width="0.7"/>
<line x1="594.91" y1="197.4" x2="594.91" y2="329.8" stroke="#bdbdbd" stroke-width="0.7"/>
<line x1="600.49" y1="197.4" x2="600.49" y2="329.8" stroke="#bdbdbd" stroke-width="0.7"/>
<line x1="603.28" y1="197.4" x2="603.28" y2="329.8" stroke="#bdbdbd" stroke-width="0.7"/>
<line x1="606.07" y1="197.4" x2="606.07" y2="329.8" stroke="#bdbdbd" stroke-width="0.7"/>
<line x1="608.86" y1="197.4" x2="608.86" y2="329.8" stroke="#bdbdbd" stroke-width="0.7"/>
<line x1="611.65" y1="197.4" x2="611.65" y2="329.8" stroke="#bdbdbd" stroke-width="0.7"/>
<line x1="614.44" y1="197.4" x2="614.44" y2="329.8" stroke="#bdbdbd" stroke-width="0.7"/>
<line x1="617.23" y1="197.4" x2="617.23" y2="329.8" stroke="#bdbdbd" stroke-width="0.7"/>
<line x1="620.02" y1="197.4" x2="620.02" y2="329.8" stroke="#bdbdbd" stroke-width="0.7"/>
<line x1="622.81" y1="197.4" x2="622.81" y2="329.8" stroke="#bdbdbd" stroke-width="0.7"/>
<line x1="628.39" y1="197.4" x2="628.39" y2="329.8" stroke="#bdbdbd" stroke-width="0.7"/>
<line x1="631.18" y1="197.4" x2="631.18" y2="329.8" stroke="#bdbdbd" stroke-width="0.7"/>
<line x1="633.97" y1="197.4" x2="633.97" y2="329.8" stroke="#bdbdbd" stroke-width="0.7"/>
<line x1="636.76" y1="197.4" x2="636.76" y2="329.8" stroke="#bdbdbd" stroke-width="0.7"/>
<line x1="639.55" y1="197.4" x2="639.55" y2="329.8" stroke="#bdbdbd" stroke-width="0.7"/>
<line x1="642.34" y1="197.4" x2="642.34" y2="329.8" stroke="#bdbdbd" stroke-width="0.7"/>
<line x1="645.13" y1="197.4" x2="645.13" y2="329.8" stroke="#bdbdbd" stroke-width="0.7"/>
<line x1="647.92" y1="197.4" x2="647.92" y2="329.8" stroke="#bdbdbd" stroke-width="0.7"/>
<line x1="650.71" y1="197.4" x2="650.71" y2="329.8" stroke="#bdbdbd" stroke-width="0.7"/>
<line x1="374.5" y1="323.18" x2="653.5" y2="323.18" stroke="#cdcdcd" stroke-width="0.7"/>
<line x1="374.5" y1="309.94" x2="653.5" y2="309.94" stroke="#cdcdcd" stroke-width="0.7"/>
<line x1="374.5" y1="296.7" x2="653.5" y2="296.7" stroke="#cdcdcd" stroke-width="0.7"/>
<line x1="374.5" y1="283.46" x2="653.5" y2="283.46" stroke="#cdcdcd" stroke-width="0.7"/>
<line x1="374.5" y1="270.22" x2="653.5" y2="270.22" stroke="#cdcdcd" stroke-width="0.7"/>
<line x1="374.5" y1="256.98" x2="653.5" y2="256.98" stroke="#cdcdcd" stroke-width="0.7"/>
<line x1="374.5" y1="243.74" x2="653.5" y2="243.74" stroke="#cdcdcd" stroke-width="0.7"/>
<line x1="374.5" y1="230.5" x2="653.5" y2="230.5" stroke="#cdcdcd" stroke-width="0.7"/>
<line x1="374.5" y1="217.26" x2="653.5" y2="217.26" stroke="#cdcdcd" stroke-width="0.7"/>
<line x1="374.5" y1="204.02" x2="653.5" y2="204.02" stroke="#cdcdcd" stroke-width="0.7"/>
<line x1="374.5" y1="316.56" x2="653.5" y2="316.56" stroke="#c9e0e4" stroke-width="0.85"/>
<line x1="374.5" y1="303.32" x2="653.5" y2="303.32" stroke="#c9e0e4" stroke-width="0.85"/>
<line x1="374.5" y1="290.08" x2="653.5" y2="290.08" stroke="#c9e0e4" stroke-width="0.85"/>
<line x1="374.5" y1="276.84" x2="653.5" y2="276.84" stroke="#c9e0e4" stroke-width="0.85"/>
<line x1="374.5" y1="263.6" x2="653.5" y2="263.6" stroke="#c9e0e4" stroke-width="0.85"/>
<line x1="374.5" y1="250.36" x2="653.5" y2="250.36" stroke="#c9e0e4" stroke-width="0.85"/>
<line x1="374.5" y1="237.12" x2="653.5" y2="237.12" stroke="#c9e0e4" stroke-width="0.85"/>
<line x1="374.5" y1="223.88" x2="653.5" y2="223.88" stroke="#c9e0e4" stroke-width="0.85"/>
<line x1="374.5" y1="210.64" x2="653.5" y2="210.64" stroke="#c9e0e4" stroke-width="0.85"/>
<line x1="402.5" y1="197.4" x2="402.5" y2="329.8" stroke="#5a8494" stroke-width="0.85"/>
<line x1="430.5" y1="197.4" x2="430.5" y2="329.8" stroke="#4f7d8c" stroke-width="0.85"/>
<line x1="458.5" y1="197.4" x2="458.5" y2="329.8" stroke="#55818f" stroke-width="0.85"/>
<line x1="486.5" y1="197.4" x2="486.5" y2="329.8" stroke="#5a8696" stroke-width="0.85"/>
<line x1="514.5" y1="197.4" x2="514.5" y2="329.8" stroke="#4f7d8c" stroke-width="0.85"/>
<line x1="541.5" y1="197.4" x2="541.5" y2="329.8" stroke="#5a8494" stroke-width="0.85"/>
<line x1="569.5" y1="197.4" x2="569.5" y2="329.8" stroke="#4f7d8c" stroke-width="0.85"/>
<line x1="597.5" y1="197.4" x2="597.5" y2="329.8" stroke="#55818f" stroke-width="0.85"/>
<line x1="625.5" y1="197.4" x2="625.5" y2="329.8" stroke="#5a8494" stroke-width="0.85"/>
<line x1="374.5" y1="197.4" x2="653.5" y2="197.4" stroke="#4a4a4a" stroke-width="0.9"/>
<line x1="653.5" y1="197.4" x2="653.5" y2="329.8" stroke="#8a8a8a" stroke-width="0.7"/>
<line x1="374.5" y1="329.8" x2="653.5" y2="329.8" stroke="#c4c4c4" stroke-width="0.9"/>
<line x1="374.5" y1="196.9" x2="374.5" y2="331.3" stroke="#1a1a1a" stroke-width="1"/>
<line x1="370.5" y1="329.8" x2="374.5" y2="329.8" stroke="#1a1a1a" stroke-width="0.9"/>
<text x="370.4" y="331.9" font-size="5.8" fill="#111" font-weight="bold" font-style="italic" text-anchor="end" textLength="10.9" lengthAdjust="spacingAndGlyphs" stroke="#111" stroke-width="0.3">0.0</text>
<line x1="372" y1="323.18" x2="374.5" y2="323.18" stroke="#1a1a1a" stroke-width="0.9"/>
<line x1="370.5" y1="316.56" x2="374.5" y2="316.56" stroke="#1a1a1a" stroke-width="0.9"/>
<text x="370.4" y="318.66" font-size="5.8" fill="#111" font-weight="bold" font-style="italic" text-anchor="end" textLength="10.9" lengthAdjust="spacingAndGlyphs" stroke="#111" stroke-width="0.3">0.1</text>
<line x1="372" y1="309.94" x2="374.5" y2="309.94" stroke="#1a1a1a" stroke-width="0.9"/>
<line x1="370.5" y1="303.32" x2="374.5" y2="303.32" stroke="#1a1a1a" stroke-width="0.9"/>
<text x="370.4" y="305.42" font-size="5.8" fill="#111" font-weight="bold" font-style="italic" text-anchor="end" textLength="10.9" lengthAdjust="spacingAndGlyphs" stroke="#111" stroke-width="0.3">0.2</text>
<line x1="372" y1="296.7" x2="374.5" y2="296.7" stroke="#1a1a1a" stroke-width="0.9"/>
<line x1="370.5" y1="290.08" x2="374.5" y2="290.08" stroke="#1a1a1a" stroke-width="0.9"/>
<text x="370.4" y="292.18" font-size="5.8" fill="#111" font-weight="bold" font-style="italic" text-anchor="end" textLength="10.9" lengthAdjust="spacingAndGlyphs" stroke="#111" stroke-width="0.3">0.3</text>
<line x1="372" y1="283.46" x2="374.5" y2="283.46" stroke="#1a1a1a" stroke-width="0.9"/>
<line x1="370.5" y1="276.84" x2="374.5" y2="276.84" stroke="#1a1a1a" stroke-width="0.9"/>
<text x="370.4" y="278.94" font-size="5.8" fill="#111" font-weight="bold" font-style="italic" text-anchor="end" textLength="10.9" lengthAdjust="spacingAndGlyphs" stroke="#111" stroke-width="0.3">0.4</text>
<line x1="372" y1="270.22" x2="374.5" y2="270.22" stroke="#1a1a1a" stroke-width="0.9"/>
<line x1="370.5" y1="263.6" x2="374.5" y2="263.6" stroke="#1a1a1a" stroke-width="0.9"/>
<text x="370.4" y="265.7" font-size="5.8" fill="#111" font-weight="bold" font-style="italic" text-anchor="end" textLength="10.9" lengthAdjust="spacingAndGlyphs" stroke="#111" stroke-width="0.3">0.5</text>
<line x1="372" y1="256.98" x2="374.5" y2="256.98" stroke="#1a1a1a" stroke-width="0.9"/>
<line x1="370.5" y1="250.36" x2="374.5" y2="250.36" stroke="#1a1a1a" stroke-width="0.9"/>
<text x="370.4" y="252.46" font-size="5.8" fill="#111" font-weight="bold" font-style="italic" text-anchor="end" textLength="10.9" lengthAdjust="spacingAndGlyphs" stroke="#111" stroke-width="0.3">0.6</text>
<line x1="372" y1="243.74" x2="374.5" y2="243.74" stroke="#1a1a1a" stroke-width="0.9"/>
<line x1="370.5" y1="237.12" x2="374.5" y2="237.12" stroke="#1a1a1a" stroke-width="0.9"/>
<text x="370.4" y="239.22" font-size="5.8" fill="#111" font-weight="bold" font-style="italic" text-anchor="end" textLength="10.9" lengthAdjust="spacingAndGlyphs" stroke="#111" stroke-width="0.3">0.7</text>
<line x1="372" y1="230.5" x2="374.5" y2="230.5" stroke="#1a1a1a" stroke-width="0.9"/>
<line x1="370.5" y1="223.88" x2="374.5" y2="223.88" stroke="#1a1a1a" stroke-width="0.9"/>
<text x="370.4" y="225.98" font-size="5.8" fill="#111" font-weight="bold" font-style="italic" text-anchor="end" textLength="10.9" lengthAdjust="spacingAndGlyphs" stroke="#111" stroke-width="0.3">0.8</text>
<line x1="372" y1="217.26" x2="374.5" y2="217.26" stroke="#1a1a1a" stroke-width="0.9"/>
<line x1="370.5" y1="210.64" x2="374.5" y2="210.64" stroke="#1a1a1a" stroke-width="0.9"/>
<text x="370.4" y="212.74" font-size="5.8" fill="#111" font-weight="bold" font-style="italic" text-anchor="end" textLength="10.9" lengthAdjust="spacingAndGlyphs" stroke="#111" stroke-width="0.3">0.9</text>
<line x1="372" y1="204.02" x2="374.5" y2="204.02" stroke="#1a1a1a" stroke-width="0.9"/>
<line x1="370.5" y1="197.4" x2="374.5" y2="197.4" stroke="#1a1a1a" stroke-width="0.9"/>
<text x="370.4" y="199.5" font-size="5.8" fill="#111" font-weight="bold" font-style="italic" text-anchor="end" textLength="10.9" lengthAdjust="spacingAndGlyphs" stroke="#111" stroke-width="0.3">1.0</text>
<line x1="374.5" y1="330" x2="374.5" y2="333" stroke="#111" stroke-width="0.9"/>
<line x1="377.29" y1="330" x2="377.29" y2="332.2" stroke="#111" stroke-width="0.9"/>
<line x1="380.08" y1="330" x2="380.08" y2="332.2" stroke="#111" stroke-width="0.9"/>
<line x1="382.87" y1="330" x2="382.87" y2="332.2" stroke="#111" stroke-width="0.9"/>
<line x1="385.66" y1="330" x2="385.66" y2="332.2" stroke="#111" stroke-width="0.9"/>
<line x1="388.45" y1="330" x2="388.45" y2="332.2" stroke="#111" stroke-width="0.9"/>
<line x1="391.24" y1="330" x2="391.24" y2="332.2" stroke="#111" stroke-width="0.9"/>
<line x1="394.03" y1="330" x2="394.03" y2="332.2" stroke="#111" stroke-width="0.9"/>
<line x1="396.82" y1="330" x2="396.82" y2="332.2" stroke="#111" stroke-width="0.9"/>
<line x1="399.61" y1="330" x2="399.61" y2="332.2" stroke="#111" stroke-width="0.9"/>
<line x1="402.4" y1="330" x2="402.4" y2="333" stroke="#111" stroke-width="0.9"/>
<line x1="405.19" y1="330" x2="405.19" y2="332.2" stroke="#111" stroke-width="0.9"/>
<line x1="407.98" y1="330" x2="407.98" y2="332.2" stroke="#111" stroke-width="0.9"/>
<line x1="410.77" y1="330" x2="410.77" y2="332.2" stroke="#111" stroke-width="0.9"/>
<line x1="413.56" y1="330" x2="413.56" y2="332.2" stroke="#111" stroke-width="0.9"/>
<line x1="416.35" y1="330" x2="416.35" y2="332.2" stroke="#111" stroke-width="0.9"/>
<line x1="419.14" y1="330" x2="419.14" y2="332.2" stroke="#111" stroke-width="0.9"/>
<line x1="421.93" y1="330" x2="421.93" y2="332.2" stroke="#111" stroke-width="0.9"/>
<line x1="424.72" y1="330" x2="424.72" y2="332.2" stroke="#111" stroke-width="0.9"/>
<line x1="427.51" y1="330" x2="427.51" y2="332.2" stroke="#111" stroke-width="0.9"/>
<line x1="430.3" y1="330" x2="430.3" y2="333" stroke="#111" stroke-width="0.9"/>
<line x1="433.09" y1="330" x2="433.09" y2="332.2" stroke="#111" stroke-width="0.9"/>
<line x1="435.88" y1="330" x2="435.88" y2="332.2" stroke="#111" stroke-width="0.9"/>
<line x1="438.67" y1="330" x2="438.67" y2="332.2" stroke="#111" stroke-width="0.9"/>
<line x1="441.46" y1="330" x2="441.46" y2="332.2" stroke="#111" stroke-width="0.9"/>
<line x1="444.25" y1="330" x2="444.25" y2="332.2" stroke="#111" stroke-width="0.9"/>
<line x1="447.04" y1="330" x2="447.04" y2="332.2" stroke="#111" stroke-width="0.9"/>
<line x1="449.83" y1="330" x2="449.83" y2="332.2" stroke="#111" stroke-width="0.9"/>
<line x1="452.62" y1="330" x2="452.62" y2="332.2" stroke="#111" stroke-width="0.9"/>
<line x1="455.41" y1="330" x2="455.41" y2="332.2" stroke="#111" stroke-width="0.9"/>
<line x1="458.2" y1="330" x2="458.2" y2="333" stroke="#111" stroke-width="0.9"/>
<line x1="460.99" y1="330" x2="460.99" y2="332.2" stroke="#111" stroke-width="0.9"/>
<line x1="463.78" y1="330" x2="463.78" y2="332.2" stroke="#111" stroke-width="0.9"/>
<line x1="466.57" y1="330" x2="466.57" y2="332.2" stroke="#111" stroke-width="0.9"/>
<line x1="469.36" y1="330" x2="469.36" y2="332.2" stroke="#111" stroke-width="0.9"/>
<line x1="472.15" y1="330" x2="472.15" y2="332.2" stroke="#111" stroke-width="0.9"/>
<line x1="474.94" y1="330" x2="474.94" y2="332.2" stroke="#111" stroke-width="0.9"/>
<line x1="477.73" y1="330" x2="477.73" y2="332.2" stroke="#111" stroke-width="0.9"/>
<line x1="480.52" y1="330" x2="480.52" y2="332.2" stroke="#111" stroke-width="0.9"/>
<line x1="483.31" y1="330" x2="483.31" y2="332.2" stroke="#111" stroke-width="0.9"/>
<line x1="486.1" y1="330" x2="486.1" y2="333" stroke="#111" stroke-width="0.9"/>
<line x1="488.89" y1="330" x2="488.89" y2="332.2" stroke="#111" stroke-width="0.9"/>
<line x1="491.68" y1="330" x2="491.68" y2="332.2" stroke="#111" stroke-width="0.9"/>
<line x1="494.47" y1="330" x2="494.47" y2="332.2" stroke="#111" stroke-width="0.9"/>
<line x1="497.26" y1="330" x2="497.26" y2="332.2" stroke="#111" stroke-width="0.9"/>
<line x1="500.05" y1="330" x2="500.05" y2="332.2" stroke="#111" stroke-width="0.9"/>
<line x1="502.84" y1="330" x2="502.84" y2="332.2" stroke="#111" stroke-width="0.9"/>
<line x1="505.63" y1="330" x2="505.63" y2="332.2" stroke="#111" stroke-width="0.9"/>
<line x1="508.42" y1="330" x2="508.42" y2="332.2" stroke="#111" stroke-width="0.9"/>
<line x1="511.21" y1="330" x2="511.21" y2="332.2" stroke="#111" stroke-width="0.9"/>
<line x1="514" y1="330" x2="514" y2="333" stroke="#111" stroke-width="0.9"/>
<line x1="516.79" y1="330" x2="516.79" y2="332.2" stroke="#111" stroke-width="0.9"/>
<line x1="519.58" y1="330" x2="519.58" y2="332.2" stroke="#111" stroke-width="0.9"/>
<line x1="522.37" y1="330" x2="522.37" y2="332.2" stroke="#111" stroke-width="0.9"/>
<line x1="525.16" y1="330" x2="525.16" y2="332.2" stroke="#111" stroke-width="0.9"/>
<line x1="527.95" y1="330" x2="527.95" y2="332.2" stroke="#111" stroke-width="0.9"/>
<line x1="530.74" y1="330" x2="530.74" y2="332.2" stroke="#111" stroke-width="0.9"/>
<line x1="533.53" y1="330" x2="533.53" y2="332.2" stroke="#111" stroke-width="0.9"/>
<line x1="536.32" y1="330" x2="536.32" y2="332.2" stroke="#111" stroke-width="0.9"/>
<line x1="539.11" y1="330" x2="539.11" y2="332.2" stroke="#111" stroke-width="0.9"/>
<line x1="541.9" y1="330" x2="541.9" y2="333" stroke="#111" stroke-width="0.9"/>
<line x1="544.69" y1="330" x2="544.69" y2="332.2" stroke="#111" stroke-width="0.9"/>
<line x1="547.48" y1="330" x2="547.48" y2="332.2" stroke="#111" stroke-width="0.9"/>
<line x1="550.27" y1="330" x2="550.27" y2="332.2" stroke="#111" stroke-width="0.9"/>
<line x1="553.06" y1="330" x2="553.06" y2="332.2" stroke="#111" stroke-width="0.9"/>
<line x1="555.85" y1="330" x2="555.85" y2="332.2" stroke="#111" stroke-width="0.9"/>
<line x1="558.64" y1="330" x2="558.64" y2="332.2" stroke="#111" stroke-width="0.9"/>
<line x1="561.43" y1="330" x2="561.43" y2="332.2" stroke="#111" stroke-width="0.9"/>
<line x1="564.22" y1="330" x2="564.22" y2="332.2" stroke="#111" stroke-width="0.9"/>
<line x1="567.01" y1="330" x2="567.01" y2="332.2" stroke="#111" stroke-width="0.9"/>
<line x1="569.8" y1="330" x2="569.8" y2="333" stroke="#111" stroke-width="0.9"/>
<line x1="572.59" y1="330" x2="572.59" y2="332.2" stroke="#111" stroke-width="0.9"/>
<line x1="575.38" y1="330" x2="575.38" y2="332.2" stroke="#111" stroke-width="0.9"/>
<line x1="578.17" y1="330" x2="578.17" y2="332.2" stroke="#111" stroke-width="0.9"/>
<line x1="580.96" y1="330" x2="580.96" y2="332.2" stroke="#111" stroke-width="0.9"/>
<line x1="583.75" y1="330" x2="583.75" y2="332.2" stroke="#111" stroke-width="0.9"/>
<line x1="586.54" y1="330" x2="586.54" y2="332.2" stroke="#111" stroke-width="0.9"/>
<line x1="589.33" y1="330" x2="589.33" y2="332.2" stroke="#111" stroke-width="0.9"/>
<line x1="592.12" y1="330" x2="592.12" y2="332.2" stroke="#111" stroke-width="0.9"/>
<line x1="594.91" y1="330" x2="594.91" y2="332.2" stroke="#111" stroke-width="0.9"/>
<line x1="597.7" y1="330" x2="597.7" y2="333" stroke="#111" stroke-width="0.9"/>
<line x1="600.49" y1="330" x2="600.49" y2="332.2" stroke="#111" stroke-width="0.9"/>
<line x1="603.28" y1="330" x2="603.28" y2="332.2" stroke="#111" stroke-width="0.9"/>
<line x1="606.07" y1="330" x2="606.07" y2="332.2" stroke="#111" stroke-width="0.9"/>
<line x1="608.86" y1="330" x2="608.86" y2="332.2" stroke="#111" stroke-width="0.9"/>
<line x1="611.65" y1="330" x2="611.65" y2="332.2" stroke="#111" stroke-width="0.9"/>
<line x1="614.44" y1="330" x2="614.44" y2="332.2" stroke="#111" stroke-width="0.9"/>
<line x1="617.23" y1="330" x2="617.23" y2="332.2" stroke="#111" stroke-width="0.9"/>
<line x1="620.02" y1="330" x2="620.02" y2="332.2" stroke="#111" stroke-width="0.9"/>
<line x1="622.81" y1="330" x2="622.81" y2="332.2" stroke="#111" stroke-width="0.9"/>
<line x1="625.6" y1="330" x2="625.6" y2="333" stroke="#111" stroke-width="0.9"/>
<line x1="628.39" y1="330" x2="628.39" y2="332.2" stroke="#111" stroke-width="0.9"/>
<line x1="631.18" y1="330" x2="631.18" y2="332.2" stroke="#111" stroke-width="0.9"/>
<line x1="633.97" y1="330" x2="633.97" y2="332.2" stroke="#111" stroke-width="0.9"/>
<line x1="636.76" y1="330" x2="636.76" y2="332.2" stroke="#111" stroke-width="0.9"/>
<line x1="639.55" y1="330" x2="639.55" y2="332.2" stroke="#111" stroke-width="0.9"/>
<line x1="642.34" y1="330" x2="642.34" y2="332.2" stroke="#111" stroke-width="0.9"/>
<line x1="645.13" y1="330" x2="645.13" y2="332.2" stroke="#111" stroke-width="0.9"/>
<line x1="647.92" y1="330" x2="647.92" y2="332.2" stroke="#111" stroke-width="0.9"/>
<line x1="650.71" y1="330" x2="650.71" y2="332.2" stroke="#111" stroke-width="0.9"/>
<line x1="653.5" y1="330" x2="653.5" y2="333" stroke="#111" stroke-width="0.9"/>
<text x="402.4" y="337.3" font-size="5" fill="#111" font-weight="bold" font-style="italic" text-anchor="middle" textLength="16.4" lengthAdjust="spacingAndGlyphs" stroke="#111" stroke-width="0.3">-400</text>
<text x="430.3" y="337.3" font-size="5" fill="#111" font-weight="bold" font-style="italic" text-anchor="middle" textLength="16.4" lengthAdjust="spacingAndGlyphs" stroke="#111" stroke-width="0.3">-300</text>
<text x="458.2" y="337.3" font-size="5" fill="#111" font-weight="bold" font-style="italic" text-anchor="middle" textLength="16.4" lengthAdjust="spacingAndGlyphs" stroke="#111" stroke-width="0.3">-200</text>
<text x="486.1" y="337.3" font-size="5" fill="#111" font-weight="bold" font-style="italic" text-anchor="middle" textLength="16.4" lengthAdjust="spacingAndGlyphs" stroke="#111" stroke-width="0.3">-100</text>
<text x="514" y="337.3" font-size="5" fill="#111" font-weight="bold" font-style="italic" text-anchor="middle" textLength="4.1" lengthAdjust="spacingAndGlyphs" stroke="#111" stroke-width="0.3">0</text>
<text x="541.9" y="337.3" font-size="5" fill="#111" font-weight="bold" font-style="italic" text-anchor="middle" textLength="12.3" lengthAdjust="spacingAndGlyphs" stroke="#111" stroke-width="0.3">100</text>
<text x="569.8" y="337.3" font-size="5" fill="#111" font-weight="bold" font-style="italic" text-anchor="middle" textLength="12.3" lengthAdjust="spacingAndGlyphs" stroke="#111" stroke-width="0.3">200</text>
<text x="597.7" y="337.3" font-size="5" fill="#111" font-weight="bold" font-style="italic" text-anchor="middle" textLength="12.3" lengthAdjust="spacingAndGlyphs" stroke="#111" stroke-width="0.3">300</text>
<text x="625.6" y="337.3" font-size="5" fill="#111" font-weight="bold" font-style="italic" text-anchor="middle" textLength="12.3" lengthAdjust="spacingAndGlyphs" stroke="#111" stroke-width="0.3">400</text>
<text x="653.5" y="337.3" font-size="5" fill="#111" font-weight="bold" font-style="italic" text-anchor="middle" textLength="12.3" lengthAdjust="spacingAndGlyphs" stroke="#111" stroke-width="0.3">500</text>
<text x="513.5" y="347.6" font-size="6" fill="#111" text-anchor="middle" textLength="72" lengthAdjust="spacingAndGlyphs" stroke="#111" stroke-width="0.25">Zeta Potential (mV)</text>
<text x="348.8" y="263.6" font-size="6.8" fill="#111" text-anchor="middle" textLength="32.8" lengthAdjust="spacingAndGlyphs" stroke="#111" stroke-width="0.25" transform="rotate(-90 348.8 263.6)">Intensity (a.u.)</text>
<polyline points="506,329.8 508.4,329.5 509.8,326 511.2,312 512.3,280 513.2,240 513.8,197.6 514.4,240 515.3,280 516.4,312 517.8,326 519.2,329.5 521,329.8" fill="none" stroke="#25297a" stroke-width="1.15" stroke-linejoin="round"/>
<text x="400.7" y="227.7" font-size="13.2" fill="#000" font-weight="bold" textLength="9" lengthAdjust="spacingAndGlyphs" stroke="#000" stroke-width="0.5">D</text>
<rect x="551" y="201.1" width="127" height="39.4" fill="#fcfcfc"/>
<text x="554.6" y="208.3" font-size="6.8" fill="#0a461e" font-weight="bold" textLength="60.5" lengthAdjust="spacingAndGlyphs" stroke="#0a461e" stroke-width="0.3">Calculation Results</text>
<rect x="554.6" y="209.2" width="96.2" height="17" fill="none" stroke="#8a4656" stroke-width="0.5"/>
<line x1="575.6" y1="209.2" x2="575.6" y2="226.2" stroke="#8a4656" stroke-width="0.5"/>
<line x1="603.6" y1="209.2" x2="603.6" y2="226.2" stroke="#8a4656" stroke-width="0.5"/>
<line x1="554.6" y1="213.55" x2="650.8" y2="213.55" stroke="#8a4656" stroke-width="0.5"/>
<line x1="554.6" y1="218.1" x2="650.8" y2="218.1" stroke="#8a4656" stroke-width="0.5"/>
<line x1="554.6" y1="222.2" x2="650.8" y2="222.2" stroke="#8a4656" stroke-width="0.5"/>
<text x="565.1" y="212.65" font-size="3.8" fill="#0a461e" font-weight="bold" text-anchor="middle" stroke="#0a461e" stroke-width="0.2">Peak No.</text>
<text x="589.6" y="212.65" font-size="3.8" fill="#0a461e" font-weight="bold" text-anchor="middle" stroke="#0a461e" stroke-width="0.2">Zeta Potential</text>
<text x="627.2" y="212.65" font-size="3.8" fill="#0a461e" font-weight="bold" text-anchor="middle" stroke="#0a461e" stroke-width="0.2">Electrophoretic Mobility</text>
<text x="565.1" y="217.2" font-size="3.8" fill="#0a461e" font-weight="bold" text-anchor="middle" stroke="#0a461e" stroke-width="0.2">1</text>
<text x="589.6" y="217.2" font-size="3.8" fill="#0a461e" font-weight="bold" text-anchor="middle" stroke="#0a461e" stroke-width="0.2">-33.0 mV</text>
<text x="627.2" y="217.2" font-size="3.8" fill="#0a461e" font-weight="bold" text-anchor="middle" stroke="#0a461e" stroke-width="0.2">-0.000255 cm2/Vs</text>
<text x="565.1" y="221.3" font-size="3.8" fill="#0a461e" font-weight="bold" text-anchor="middle" stroke="#0a461e" stroke-width="0.2">2</text>
<text x="589.6" y="221.3" font-size="3.8" fill="#0a461e" font-weight="bold" text-anchor="middle" stroke="#0a461e" stroke-width="0.2">--- mV</text>
<text x="627.2" y="221.3" font-size="3.8" fill="#0a461e" font-weight="bold" text-anchor="middle" stroke="#0a461e" stroke-width="0.2">--- cm2/Vs</text>
<text x="565.1" y="225.3" font-size="3.8" fill="#0a461e" font-weight="bold" text-anchor="middle" stroke="#0a461e" stroke-width="0.2">3</text>
<text x="589.6" y="225.3" font-size="3.8" fill="#0a461e" font-weight="bold" text-anchor="middle" stroke="#0a461e" stroke-width="0.2">--- mV</text>
<text x="627.2" y="225.3" font-size="3.8" fill="#0a461e" font-weight="bold" text-anchor="middle" stroke="#0a461e" stroke-width="0.2">--- cm2/Vs</text>
<text x="554.6" y="231.1" font-size="4.7" fill="#0a461e" font-weight="bold" textLength="46.5" lengthAdjust="spacingAndGlyphs" stroke="#0a461e" stroke-width="0.3">Zeta Potential (Mean)</text>
<text x="554.6" y="236.6" font-size="4.7" fill="#0a461e" font-weight="bold" textLength="65.9" lengthAdjust="spacingAndGlyphs" stroke="#0a461e" stroke-width="0.3">Electrophoretic Mobility Mean</text>
<text x="629.8" y="231.1" font-size="4.7" fill="#0a461e" font-weight="bold">:</text>
<text x="629.8" y="236.6" font-size="4.7" fill="#0a461e" font-weight="bold">:</text>
<text x="633.9" y="231.1" font-size="4.7" fill="#0a461e" font-weight="bold" textLength="19.4" lengthAdjust="spacingAndGlyphs" stroke="#0a461e" stroke-width="0.3">-33.0 mV</text>
<text x="633.9" y="236.6" font-size="4.7" fill="#0a461e" font-weight="bold" textLength="38" lengthAdjust="spacingAndGlyphs" stroke="#0a461e" stroke-width="0.3">-0.000255 cm2/Vs</text>
<rect x="342.9" y="349.9" width="342.1" height="155.1" fill="#ebebeb"/>
<rect x="377.1" y="353.9" width="278.1" height="131.3" fill="#fff"/>
<line x1="379.88" y1="353.9" x2="379.88" y2="485.2" stroke="#bdbdbd" stroke-width="0.7"/>
<line x1="382.66" y1="353.9" x2="382.66" y2="485.2" stroke="#bdbdbd" stroke-width="0.7"/>
<line x1="385.44" y1="353.9" x2="385.44" y2="485.2" stroke="#bdbdbd" stroke-width="0.7"/>
<line x1="388.22" y1="353.9" x2="388.22" y2="485.2" stroke="#bdbdbd" stroke-width="0.7"/>
<line x1="391" y1="353.9" x2="391" y2="485.2" stroke="#bdbdbd" stroke-width="0.7"/>
<line x1="393.79" y1="353.9" x2="393.79" y2="485.2" stroke="#bdbdbd" stroke-width="0.7"/>
<line x1="396.57" y1="353.9" x2="396.57" y2="485.2" stroke="#bdbdbd" stroke-width="0.7"/>
<line x1="399.35" y1="353.9" x2="399.35" y2="485.2" stroke="#bdbdbd" stroke-width="0.7"/>
<line x1="402.13" y1="353.9" x2="402.13" y2="485.2" stroke="#bdbdbd" stroke-width="0.7"/>
<line x1="407.69" y1="353.9" x2="407.69" y2="485.2" stroke="#bdbdbd" stroke-width="0.7"/>
<line x1="410.47" y1="353.9" x2="410.47" y2="485.2" stroke="#bdbdbd" stroke-width="0.7"/>
<line x1="413.25" y1="353.9" x2="413.25" y2="485.2" stroke="#bdbdbd" stroke-width="0.7"/>
<line x1="416.03" y1="353.9" x2="416.03" y2="485.2" stroke="#bdbdbd" stroke-width="0.7"/>
<line x1="418.82" y1="353.9" x2="418.82" y2="485.2" stroke="#bdbdbd" stroke-width="0.7"/>
<line x1="421.6" y1="353.9" x2="421.6" y2="485.2" stroke="#bdbdbd" stroke-width="0.7"/>
<line x1="424.38" y1="353.9" x2="424.38" y2="485.2" stroke="#bdbdbd" stroke-width="0.7"/>
<line x1="427.16" y1="353.9" x2="427.16" y2="485.2" stroke="#bdbdbd" stroke-width="0.7"/>
<line x1="429.94" y1="353.9" x2="429.94" y2="485.2" stroke="#bdbdbd" stroke-width="0.7"/>
<line x1="435.5" y1="353.9" x2="435.5" y2="485.2" stroke="#bdbdbd" stroke-width="0.7"/>
<line x1="438.28" y1="353.9" x2="438.28" y2="485.2" stroke="#bdbdbd" stroke-width="0.7"/>
<line x1="441.06" y1="353.9" x2="441.06" y2="485.2" stroke="#bdbdbd" stroke-width="0.7"/>
<line x1="443.84" y1="353.9" x2="443.84" y2="485.2" stroke="#bdbdbd" stroke-width="0.7"/>
<line x1="446.62" y1="353.9" x2="446.62" y2="485.2" stroke="#bdbdbd" stroke-width="0.7"/>
<line x1="449.41" y1="353.9" x2="449.41" y2="485.2" stroke="#bdbdbd" stroke-width="0.7"/>
<line x1="452.19" y1="353.9" x2="452.19" y2="485.2" stroke="#bdbdbd" stroke-width="0.7"/>
<line x1="454.97" y1="353.9" x2="454.97" y2="485.2" stroke="#bdbdbd" stroke-width="0.7"/>
<line x1="457.75" y1="353.9" x2="457.75" y2="485.2" stroke="#bdbdbd" stroke-width="0.7"/>
<line x1="463.31" y1="353.9" x2="463.31" y2="485.2" stroke="#bdbdbd" stroke-width="0.7"/>
<line x1="466.09" y1="353.9" x2="466.09" y2="485.2" stroke="#bdbdbd" stroke-width="0.7"/>
<line x1="468.87" y1="353.9" x2="468.87" y2="485.2" stroke="#bdbdbd" stroke-width="0.7"/>
<line x1="471.65" y1="353.9" x2="471.65" y2="485.2" stroke="#bdbdbd" stroke-width="0.7"/>
<line x1="474.44" y1="353.9" x2="474.44" y2="485.2" stroke="#bdbdbd" stroke-width="0.7"/>
<line x1="477.22" y1="353.9" x2="477.22" y2="485.2" stroke="#bdbdbd" stroke-width="0.7"/>
<line x1="480" y1="353.9" x2="480" y2="485.2" stroke="#bdbdbd" stroke-width="0.7"/>
<line x1="482.78" y1="353.9" x2="482.78" y2="485.2" stroke="#bdbdbd" stroke-width="0.7"/>
<line x1="485.56" y1="353.9" x2="485.56" y2="485.2" stroke="#bdbdbd" stroke-width="0.7"/>
<line x1="491.12" y1="353.9" x2="491.12" y2="485.2" stroke="#bdbdbd" stroke-width="0.7"/>
<line x1="493.9" y1="353.9" x2="493.9" y2="485.2" stroke="#bdbdbd" stroke-width="0.7"/>
<line x1="496.68" y1="353.9" x2="496.68" y2="485.2" stroke="#bdbdbd" stroke-width="0.7"/>
<line x1="499.46" y1="353.9" x2="499.46" y2="485.2" stroke="#bdbdbd" stroke-width="0.7"/>
<line x1="502.25" y1="353.9" x2="502.25" y2="485.2" stroke="#bdbdbd" stroke-width="0.7"/>
<line x1="505.03" y1="353.9" x2="505.03" y2="485.2" stroke="#bdbdbd" stroke-width="0.7"/>
<line x1="507.81" y1="353.9" x2="507.81" y2="485.2" stroke="#bdbdbd" stroke-width="0.7"/>
<line x1="510.59" y1="353.9" x2="510.59" y2="485.2" stroke="#bdbdbd" stroke-width="0.7"/>
<line x1="513.37" y1="353.9" x2="513.37" y2="485.2" stroke="#bdbdbd" stroke-width="0.7"/>
<line x1="518.93" y1="353.9" x2="518.93" y2="485.2" stroke="#bdbdbd" stroke-width="0.7"/>
<line x1="521.71" y1="353.9" x2="521.71" y2="485.2" stroke="#bdbdbd" stroke-width="0.7"/>
<line x1="524.49" y1="353.9" x2="524.49" y2="485.2" stroke="#bdbdbd" stroke-width="0.7"/>
<line x1="527.27" y1="353.9" x2="527.27" y2="485.2" stroke="#bdbdbd" stroke-width="0.7"/>
<line x1="530.06" y1="353.9" x2="530.06" y2="485.2" stroke="#bdbdbd" stroke-width="0.7"/>
<line x1="532.84" y1="353.9" x2="532.84" y2="485.2" stroke="#bdbdbd" stroke-width="0.7"/>
<line x1="535.62" y1="353.9" x2="535.62" y2="485.2" stroke="#bdbdbd" stroke-width="0.7"/>
<line x1="538.4" y1="353.9" x2="538.4" y2="485.2" stroke="#bdbdbd" stroke-width="0.7"/>
<line x1="541.18" y1="353.9" x2="541.18" y2="485.2" stroke="#bdbdbd" stroke-width="0.7"/>
<line x1="546.74" y1="353.9" x2="546.74" y2="485.2" stroke="#bdbdbd" stroke-width="0.7"/>
<line x1="549.52" y1="353.9" x2="549.52" y2="485.2" stroke="#bdbdbd" stroke-width="0.7"/>
<line x1="552.3" y1="353.9" x2="552.3" y2="485.2" stroke="#bdbdbd" stroke-width="0.7"/>
<line x1="555.08" y1="353.9" x2="555.08" y2="485.2" stroke="#bdbdbd" stroke-width="0.7"/>
<line x1="557.87" y1="353.9" x2="557.87" y2="485.2" stroke="#bdbdbd" stroke-width="0.7"/>
<line x1="560.65" y1="353.9" x2="560.65" y2="485.2" stroke="#bdbdbd" stroke-width="0.7"/>
<line x1="563.43" y1="353.9" x2="563.43" y2="485.2" stroke="#bdbdbd" stroke-width="0.7"/>
<line x1="566.21" y1="353.9" x2="566.21" y2="485.2" stroke="#bdbdbd" stroke-width="0.7"/>
<line x1="568.99" y1="353.9" x2="568.99" y2="485.2" stroke="#bdbdbd" stroke-width="0.7"/>
<line x1="574.55" y1="353.9" x2="574.55" y2="485.2" stroke="#bdbdbd" stroke-width="0.7"/>
<line x1="577.33" y1="353.9" x2="577.33" y2="485.2" stroke="#bdbdbd" stroke-width="0.7"/>
<line x1="580.11" y1="353.9" x2="580.11" y2="485.2" stroke="#bdbdbd" stroke-width="0.7"/>
<line x1="582.89" y1="353.9" x2="582.89" y2="485.2" stroke="#bdbdbd" stroke-width="0.7"/>
<line x1="585.68" y1="353.9" x2="585.68" y2="485.2" stroke="#bdbdbd" stroke-width="0.7"/>
<line x1="588.46" y1="353.9" x2="588.46" y2="485.2" stroke="#bdbdbd" stroke-width="0.7"/>
<line x1="591.24" y1="353.9" x2="591.24" y2="485.2" stroke="#bdbdbd" stroke-width="0.7"/>
<line x1="594.02" y1="353.9" x2="594.02" y2="485.2" stroke="#bdbdbd" stroke-width="0.7"/>
<line x1="596.8" y1="353.9" x2="596.8" y2="485.2" stroke="#bdbdbd" stroke-width="0.7"/>
<line x1="602.36" y1="353.9" x2="602.36" y2="485.2" stroke="#bdbdbd" stroke-width="0.7"/>
<line x1="605.14" y1="353.9" x2="605.14" y2="485.2" stroke="#bdbdbd" stroke-width="0.7"/>
<line x1="607.92" y1="353.9" x2="607.92" y2="485.2" stroke="#bdbdbd" stroke-width="0.7"/>
<line x1="610.7" y1="353.9" x2="610.7" y2="485.2" stroke="#bdbdbd" stroke-width="0.7"/>
<line x1="613.49" y1="353.9" x2="613.49" y2="485.2" stroke="#bdbdbd" stroke-width="0.7"/>
<line x1="616.27" y1="353.9" x2="616.27" y2="485.2" stroke="#bdbdbd" stroke-width="0.7"/>
<line x1="619.05" y1="353.9" x2="619.05" y2="485.2" stroke="#bdbdbd" stroke-width="0.7"/>
<line x1="621.83" y1="353.9" x2="621.83" y2="485.2" stroke="#bdbdbd" stroke-width="0.7"/>
<line x1="624.61" y1="353.9" x2="624.61" y2="485.2" stroke="#bdbdbd" stroke-width="0.7"/>
<line x1="630.17" y1="353.9" x2="630.17" y2="485.2" stroke="#bdbdbd" stroke-width="0.7"/>
<line x1="632.95" y1="353.9" x2="632.95" y2="485.2" stroke="#bdbdbd" stroke-width="0.7"/>
<line x1="635.73" y1="353.9" x2="635.73" y2="485.2" stroke="#bdbdbd" stroke-width="0.7"/>
<line x1="638.51" y1="353.9" x2="638.51" y2="485.2" stroke="#bdbdbd" stroke-width="0.7"/>
<line x1="641.3" y1="353.9" x2="641.3" y2="485.2" stroke="#bdbdbd" stroke-width="0.7"/>
<line x1="644.08" y1="353.9" x2="644.08" y2="485.2" stroke="#bdbdbd" stroke-width="0.7"/>
<line x1="646.86" y1="353.9" x2="646.86" y2="485.2" stroke="#bdbdbd" stroke-width="0.7"/>
<line x1="649.64" y1="353.9" x2="649.64" y2="485.2" stroke="#bdbdbd" stroke-width="0.7"/>
<line x1="652.42" y1="353.9" x2="652.42" y2="485.2" stroke="#bdbdbd" stroke-width="0.7"/>
<line x1="377.1" y1="478.63" x2="655.2" y2="478.63" stroke="#cdcdcd" stroke-width="0.7"/>
<line x1="377.1" y1="465.5" x2="655.2" y2="465.5" stroke="#cdcdcd" stroke-width="0.7"/>
<line x1="377.1" y1="452.38" x2="655.2" y2="452.38" stroke="#cdcdcd" stroke-width="0.7"/>
<line x1="377.1" y1="439.25" x2="655.2" y2="439.25" stroke="#cdcdcd" stroke-width="0.7"/>
<line x1="377.1" y1="426.12" x2="655.2" y2="426.12" stroke="#cdcdcd" stroke-width="0.7"/>
<line x1="377.1" y1="412.98" x2="655.2" y2="412.98" stroke="#cdcdcd" stroke-width="0.7"/>
<line x1="377.1" y1="399.85" x2="655.2" y2="399.85" stroke="#cdcdcd" stroke-width="0.7"/>
<line x1="377.1" y1="386.72" x2="655.2" y2="386.72" stroke="#cdcdcd" stroke-width="0.7"/>
<line x1="377.1" y1="373.59" x2="655.2" y2="373.59" stroke="#cdcdcd" stroke-width="0.7"/>
<line x1="377.1" y1="360.46" x2="655.2" y2="360.46" stroke="#cdcdcd" stroke-width="0.7"/>
<line x1="377.1" y1="472.07" x2="655.2" y2="472.07" stroke="#c9e0e4" stroke-width="0.85"/>
<line x1="377.1" y1="458.94" x2="655.2" y2="458.94" stroke="#c9e0e4" stroke-width="0.85"/>
<line x1="377.1" y1="445.81" x2="655.2" y2="445.81" stroke="#c9e0e4" stroke-width="0.85"/>
<line x1="377.1" y1="432.68" x2="655.2" y2="432.68" stroke="#c9e0e4" stroke-width="0.85"/>
<line x1="377.1" y1="419.55" x2="655.2" y2="419.55" stroke="#c9e0e4" stroke-width="0.85"/>
<line x1="377.1" y1="406.42" x2="655.2" y2="406.42" stroke="#c9e0e4" stroke-width="0.85"/>
<line x1="377.1" y1="393.29" x2="655.2" y2="393.29" stroke="#c9e0e4" stroke-width="0.85"/>
<line x1="377.1" y1="380.16" x2="655.2" y2="380.16" stroke="#c9e0e4" stroke-width="0.85"/>
<line x1="377.1" y1="367.03" x2="655.2" y2="367.03" stroke="#c9e0e4" stroke-width="0.85"/>
<line x1="404.5" y1="353.9" x2="404.5" y2="485.2" stroke="#8aa6be" stroke-width="0.85"/>
<line x1="432.5" y1="353.9" x2="432.5" y2="485.2" stroke="#4f7d8c" stroke-width="0.85"/>
<line x1="460.5" y1="353.9" x2="460.5" y2="485.2" stroke="#5f7f99" stroke-width="0.85"/>
<line x1="488.5" y1="353.9" x2="488.5" y2="485.2" stroke="#7d9ab4" stroke-width="0.85"/>
<line x1="516.5" y1="353.9" x2="516.5" y2="485.2" stroke="#4f7d8c" stroke-width="0.85"/>
<line x1="543.5" y1="353.9" x2="543.5" y2="485.2" stroke="#6f8fa8" stroke-width="0.85"/>
<line x1="571.5" y1="353.9" x2="571.5" y2="485.2" stroke="#5a8494" stroke-width="0.85"/>
<line x1="599.5" y1="353.9" x2="599.5" y2="485.2" stroke="#7d9ab4" stroke-width="0.85"/>
<line x1="627.5" y1="353.9" x2="627.5" y2="485.2" stroke="#6a8aa0" stroke-width="0.85"/>
<line x1="377.1" y1="353.9" x2="655.2" y2="353.9" stroke="#4a4a4a" stroke-width="0.9"/>
<line x1="655.2" y1="353.9" x2="655.2" y2="485.2" stroke="#8a8a8a" stroke-width="0.7"/>
<line x1="377.1" y1="485.2" x2="655.2" y2="485.2" stroke="#c4c4c4" stroke-width="0.9"/>
<line x1="377.1" y1="353.4" x2="377.1" y2="486.7" stroke="#1a1a1a" stroke-width="1"/>
<line x1="373.1" y1="485.2" x2="377.1" y2="485.2" stroke="#1a1a1a" stroke-width="0.9"/>
<text x="373" y="487.3" font-size="5.8" fill="#111" font-weight="bold" font-style="italic" text-anchor="end" textLength="10.9" lengthAdjust="spacingAndGlyphs" stroke="#111" stroke-width="0.3">0.0</text>
<line x1="374.6" y1="478.63" x2="377.1" y2="478.63" stroke="#1a1a1a" stroke-width="0.9"/>
<line x1="373.1" y1="472.07" x2="377.1" y2="472.07" stroke="#1a1a1a" stroke-width="0.9"/>
<text x="373" y="474.17" font-size="5.8" fill="#111" font-weight="bold" font-style="italic" text-anchor="end" textLength="10.9" lengthAdjust="spacingAndGlyphs" stroke="#111" stroke-width="0.3">0.1</text>
<line x1="374.6" y1="465.5" x2="377.1" y2="465.5" stroke="#1a1a1a" stroke-width="0.9"/>
<line x1="373.1" y1="458.94" x2="377.1" y2="458.94" stroke="#1a1a1a" stroke-width="0.9"/>
<text x="373" y="461.04" font-size="5.8" fill="#111" font-weight="bold" font-style="italic" text-anchor="end" textLength="10.9" lengthAdjust="spacingAndGlyphs" stroke="#111" stroke-width="0.3">0.2</text>
<line x1="374.6" y1="452.38" x2="377.1" y2="452.38" stroke="#1a1a1a" stroke-width="0.9"/>
<line x1="373.1" y1="445.81" x2="377.1" y2="445.81" stroke="#1a1a1a" stroke-width="0.9"/>
<text x="373" y="447.91" font-size="5.8" fill="#111" font-weight="bold" font-style="italic" text-anchor="end" textLength="10.9" lengthAdjust="spacingAndGlyphs" stroke="#111" stroke-width="0.3">0.3</text>
<line x1="374.6" y1="439.25" x2="377.1" y2="439.25" stroke="#1a1a1a" stroke-width="0.9"/>
<line x1="373.1" y1="432.68" x2="377.1" y2="432.68" stroke="#1a1a1a" stroke-width="0.9"/>
<text x="373" y="434.78" font-size="5.8" fill="#111" font-weight="bold" font-style="italic" text-anchor="end" textLength="10.9" lengthAdjust="spacingAndGlyphs" stroke="#111" stroke-width="0.3">0.4</text>
<line x1="374.6" y1="426.12" x2="377.1" y2="426.12" stroke="#1a1a1a" stroke-width="0.9"/>
<line x1="373.1" y1="419.55" x2="377.1" y2="419.55" stroke="#1a1a1a" stroke-width="0.9"/>
<text x="373" y="421.65" font-size="5.8" fill="#111" font-weight="bold" font-style="italic" text-anchor="end" textLength="10.9" lengthAdjust="spacingAndGlyphs" stroke="#111" stroke-width="0.3">0.5</text>
<line x1="374.6" y1="412.98" x2="377.1" y2="412.98" stroke="#1a1a1a" stroke-width="0.9"/>
<line x1="373.1" y1="406.42" x2="377.1" y2="406.42" stroke="#1a1a1a" stroke-width="0.9"/>
<text x="373" y="408.52" font-size="5.8" fill="#111" font-weight="bold" font-style="italic" text-anchor="end" textLength="10.9" lengthAdjust="spacingAndGlyphs" stroke="#111" stroke-width="0.3">0.6</text>
<line x1="374.6" y1="399.85" x2="377.1" y2="399.85" stroke="#1a1a1a" stroke-width="0.9"/>
<line x1="373.1" y1="393.29" x2="377.1" y2="393.29" stroke="#1a1a1a" stroke-width="0.9"/>
<text x="373" y="395.39" font-size="5.8" fill="#111" font-weight="bold" font-style="italic" text-anchor="end" textLength="10.9" lengthAdjust="spacingAndGlyphs" stroke="#111" stroke-width="0.3">0.7</text>
<line x1="374.6" y1="386.72" x2="377.1" y2="386.72" stroke="#1a1a1a" stroke-width="0.9"/>
<line x1="373.1" y1="380.16" x2="377.1" y2="380.16" stroke="#1a1a1a" stroke-width="0.9"/>
<text x="373" y="382.26" font-size="5.8" fill="#111" font-weight="bold" font-style="italic" text-anchor="end" textLength="10.9" lengthAdjust="spacingAndGlyphs" stroke="#111" stroke-width="0.3">0.8</text>
<line x1="374.6" y1="373.59" x2="377.1" y2="373.59" stroke="#1a1a1a" stroke-width="0.9"/>
<line x1="373.1" y1="367.03" x2="377.1" y2="367.03" stroke="#1a1a1a" stroke-width="0.9"/>
<text x="373" y="369.13" font-size="5.8" fill="#111" font-weight="bold" font-style="italic" text-anchor="end" textLength="10.9" lengthAdjust="spacingAndGlyphs" stroke="#111" stroke-width="0.3">0.9</text>
<line x1="374.6" y1="360.46" x2="377.1" y2="360.46" stroke="#1a1a1a" stroke-width="0.9"/>
<line x1="373.1" y1="353.9" x2="377.1" y2="353.9" stroke="#1a1a1a" stroke-width="0.9"/>
<text x="373" y="356" font-size="5.8" fill="#111" font-weight="bold" font-style="italic" text-anchor="end" textLength="10.9" lengthAdjust="spacingAndGlyphs" stroke="#111" stroke-width="0.3">1.0</text>
<line x1="377.1" y1="485.4" x2="377.1" y2="488.4" stroke="#111" stroke-width="0.9"/>
<line x1="379.88" y1="485.4" x2="379.88" y2="487.6" stroke="#111" stroke-width="0.9"/>
<line x1="382.66" y1="485.4" x2="382.66" y2="487.6" stroke="#111" stroke-width="0.9"/>
<line x1="385.44" y1="485.4" x2="385.44" y2="487.6" stroke="#111" stroke-width="0.9"/>
<line x1="388.22" y1="485.4" x2="388.22" y2="487.6" stroke="#111" stroke-width="0.9"/>
<line x1="391" y1="485.4" x2="391" y2="487.6" stroke="#111" stroke-width="0.9"/>
<line x1="393.79" y1="485.4" x2="393.79" y2="487.6" stroke="#111" stroke-width="0.9"/>
<line x1="396.57" y1="485.4" x2="396.57" y2="487.6" stroke="#111" stroke-width="0.9"/>
<line x1="399.35" y1="485.4" x2="399.35" y2="487.6" stroke="#111" stroke-width="0.9"/>
<line x1="402.13" y1="485.4" x2="402.13" y2="487.6" stroke="#111" stroke-width="0.9"/>
<line x1="404.91" y1="485.4" x2="404.91" y2="488.4" stroke="#111" stroke-width="0.9"/>
<line x1="407.69" y1="485.4" x2="407.69" y2="487.6" stroke="#111" stroke-width="0.9"/>
<line x1="410.47" y1="485.4" x2="410.47" y2="487.6" stroke="#111" stroke-width="0.9"/>
<line x1="413.25" y1="485.4" x2="413.25" y2="487.6" stroke="#111" stroke-width="0.9"/>
<line x1="416.03" y1="485.4" x2="416.03" y2="487.6" stroke="#111" stroke-width="0.9"/>
<line x1="418.82" y1="485.4" x2="418.82" y2="487.6" stroke="#111" stroke-width="0.9"/>
<line x1="421.6" y1="485.4" x2="421.6" y2="487.6" stroke="#111" stroke-width="0.9"/>
<line x1="424.38" y1="485.4" x2="424.38" y2="487.6" stroke="#111" stroke-width="0.9"/>
<line x1="427.16" y1="485.4" x2="427.16" y2="487.6" stroke="#111" stroke-width="0.9"/>
<line x1="429.94" y1="485.4" x2="429.94" y2="487.6" stroke="#111" stroke-width="0.9"/>
<line x1="432.72" y1="485.4" x2="432.72" y2="488.4" stroke="#111" stroke-width="0.9"/>
<line x1="435.5" y1="485.4" x2="435.5" y2="487.6" stroke="#111" stroke-width="0.9"/>
<line x1="438.28" y1="485.4" x2="438.28" y2="487.6" stroke="#111" stroke-width="0.9"/>
<line x1="441.06" y1="485.4" x2="441.06" y2="487.6" stroke="#111" stroke-width="0.9"/>
<line x1="443.84" y1="485.4" x2="443.84" y2="487.6" stroke="#111" stroke-width="0.9"/>
<line x1="446.62" y1="485.4" x2="446.62" y2="487.6" stroke="#111" stroke-width="0.9"/>
<line x1="449.41" y1="485.4" x2="449.41" y2="487.6" stroke="#111" stroke-width="0.9"/>
<line x1="452.19" y1="485.4" x2="452.19" y2="487.6" stroke="#111" stroke-width="0.9"/>
<line x1="454.97" y1="485.4" x2="454.97" y2="487.6" stroke="#111" stroke-width="0.9"/>
<line x1="457.75" y1="485.4" x2="457.75" y2="487.6" stroke="#111" stroke-width="0.9"/>
<line x1="460.53" y1="485.4" x2="460.53" y2="488.4" stroke="#111" stroke-width="0.9"/>
<line x1="463.31" y1="485.4" x2="463.31" y2="487.6" stroke="#111" stroke-width="0.9"/>
<line x1="466.09" y1="485.4" x2="466.09" y2="487.6" stroke="#111" stroke-width="0.9"/>
<line x1="468.87" y1="485.4" x2="468.87" y2="487.6" stroke="#111" stroke-width="0.9"/>
<line x1="471.65" y1="485.4" x2="471.65" y2="487.6" stroke="#111" stroke-width="0.9"/>
<line x1="474.44" y1="485.4" x2="474.44" y2="487.6" stroke="#111" stroke-width="0.9"/>
<line x1="477.22" y1="485.4" x2="477.22" y2="487.6" stroke="#111" stroke-width="0.9"/>
<line x1="480" y1="485.4" x2="480" y2="487.6" stroke="#111" stroke-width="0.9"/>
<line x1="482.78" y1="485.4" x2="482.78" y2="487.6" stroke="#111" stroke-width="0.9"/>
<line x1="485.56" y1="485.4" x2="485.56" y2="487.6" stroke="#111" stroke-width="0.9"/>
<line x1="488.34" y1="485.4" x2="488.34" y2="488.4" stroke="#111" stroke-width="0.9"/>
<line x1="491.12" y1="485.4" x2="491.12" y2="487.6" stroke="#111" stroke-width="0.9"/>
<line x1="493.9" y1="485.4" x2="493.9" y2="487.6" stroke="#111" stroke-width="0.9"/>
<line x1="496.68" y1="485.4" x2="496.68" y2="487.6" stroke="#111" stroke-width="0.9"/>
<line x1="499.46" y1="485.4" x2="499.46" y2="487.6" stroke="#111" stroke-width="0.9"/>
<line x1="502.25" y1="485.4" x2="502.25" y2="487.6" stroke="#111" stroke-width="0.9"/>
<line x1="505.03" y1="485.4" x2="505.03" y2="487.6" stroke="#111" stroke-width="0.9"/>
<line x1="507.81" y1="485.4" x2="507.81" y2="487.6" stroke="#111" stroke-width="0.9"/>
<line x1="510.59" y1="485.4" x2="510.59" y2="487.6" stroke="#111" stroke-width="0.9"/>
<line x1="513.37" y1="485.4" x2="513.37" y2="487.6" stroke="#111" stroke-width="0.9"/>
<line x1="516.15" y1="485.4" x2="516.15" y2="488.4" stroke="#111" stroke-width="0.9"/>
<line x1="518.93" y1="485.4" x2="518.93" y2="487.6" stroke="#111" stroke-width="0.9"/>
<line x1="521.71" y1="485.4" x2="521.71" y2="487.6" stroke="#111" stroke-width="0.9"/>
<line x1="524.49" y1="485.4" x2="524.49" y2="487.6" stroke="#111" stroke-width="0.9"/>
<line x1="527.27" y1="485.4" x2="527.27" y2="487.6" stroke="#111" stroke-width="0.9"/>
<line x1="530.06" y1="485.4" x2="530.06" y2="487.6" stroke="#111" stroke-width="0.9"/>
<line x1="532.84" y1="485.4" x2="532.84" y2="487.6" stroke="#111" stroke-width="0.9"/>
<line x1="535.62" y1="485.4" x2="535.62" y2="487.6" stroke="#111" stroke-width="0.9"/>
<line x1="538.4" y1="485.4" x2="538.4" y2="487.6" stroke="#111" stroke-width="0.9"/>
<line x1="541.18" y1="485.4" x2="541.18" y2="487.6" stroke="#111" stroke-width="0.9"/>
<line x1="543.96" y1="485.4" x2="543.96" y2="488.4" stroke="#111" stroke-width="0.9"/>
<line x1="546.74" y1="485.4" x2="546.74" y2="487.6" stroke="#111" stroke-width="0.9"/>
<line x1="549.52" y1="485.4" x2="549.52" y2="487.6" stroke="#111" stroke-width="0.9"/>
<line x1="552.3" y1="485.4" x2="552.3" y2="487.6" stroke="#111" stroke-width="0.9"/>
<line x1="555.08" y1="485.4" x2="555.08" y2="487.6" stroke="#111" stroke-width="0.9"/>
<line x1="557.87" y1="485.4" x2="557.87" y2="487.6" stroke="#111" stroke-width="0.9"/>
<line x1="560.65" y1="485.4" x2="560.65" y2="487.6" stroke="#111" stroke-width="0.9"/>
<line x1="563.43" y1="485.4" x2="563.43" y2="487.6" stroke="#111" stroke-width="0.9"/>
<line x1="566.21" y1="485.4" x2="566.21" y2="487.6" stroke="#111" stroke-width="0.9"/>
<line x1="568.99" y1="485.4" x2="568.99" y2="487.6" stroke="#111" stroke-width="0.9"/>
<line x1="571.77" y1="485.4" x2="571.77" y2="488.4" stroke="#111" stroke-width="0.9"/>
<line x1="574.55" y1="485.4" x2="574.55" y2="487.6" stroke="#111" stroke-width="0.9"/>
<line x1="577.33" y1="485.4" x2="577.33" y2="487.6" stroke="#111" stroke-width="0.9"/>
<line x1="580.11" y1="485.4" x2="580.11" y2="487.6" stroke="#111" stroke-width="0.9"/>
<line x1="582.89" y1="485.4" x2="582.89" y2="487.6" stroke="#111" stroke-width="0.9"/>
<line x1="585.68" y1="485.4" x2="585.68" y2="487.6" stroke="#111" stroke-width="0.9"/>
<line x1="588.46" y1="485.4" x2="588.46" y2="487.6" stroke="#111" stroke-width="0.9"/>
<line x1="591.24" y1="485.4" x2="591.24" y2="487.6" stroke="#111" stroke-width="0.9"/>
<line x1="594.02" y1="485.4" x2="594.02" y2="487.6" stroke="#111" stroke-width="0.9"/>
<line x1="596.8" y1="485.4" x2="596.8" y2="487.6" stroke="#111" stroke-width="0.9"/>
<line x1="599.58" y1="485.4" x2="599.58" y2="488.4" stroke="#111" stroke-width="0.9"/>
<line x1="602.36" y1="485.4" x2="602.36" y2="487.6" stroke="#111" stroke-width="0.9"/>
<line x1="605.14" y1="485.4" x2="605.14" y2="487.6" stroke="#111" stroke-width="0.9"/>
<line x1="607.92" y1="485.4" x2="607.92" y2="487.6" stroke="#111" stroke-width="0.9"/>
<line x1="610.7" y1="485.4" x2="610.7" y2="487.6" stroke="#111" stroke-width="0.9"/>
<line x1="613.49" y1="485.4" x2="613.49" y2="487.6" stroke="#111" stroke-width="0.9"/>
<line x1="616.27" y1="485.4" x2="616.27" y2="487.6" stroke="#111" stroke-width="0.9"/>
<line x1="619.05" y1="485.4" x2="619.05" y2="487.6" stroke="#111" stroke-width="0.9"/>
<line x1="621.83" y1="485.4" x2="621.83" y2="487.6" stroke="#111" stroke-width="0.9"/>
<line x1="624.61" y1="485.4" x2="624.61" y2="487.6" stroke="#111" stroke-width="0.9"/>
<line x1="627.39" y1="485.4" x2="627.39" y2="488.4" stroke="#111" stroke-width="0.9"/>
<line x1="630.17" y1="485.4" x2="630.17" y2="487.6" stroke="#111" stroke-width="0.9"/>
<line x1="632.95" y1="485.4" x2="632.95" y2="487.6" stroke="#111" stroke-width="0.9"/>
<line x1="635.73" y1="485.4" x2="635.73" y2="487.6" stroke="#111" stroke-width="0.9"/>
<line x1="638.51" y1="485.4" x2="638.51" y2="487.6" stroke="#111" stroke-width="0.9"/>
<line x1="641.3" y1="485.4" x2="641.3" y2="487.6" stroke="#111" stroke-width="0.9"/>
<line x1="644.08" y1="485.4" x2="644.08" y2="487.6" stroke="#111" stroke-width="0.9"/>
<line x1="646.86" y1="485.4" x2="646.86" y2="487.6" stroke="#111" stroke-width="0.9"/>
<line x1="649.64" y1="485.4" x2="649.64" y2="487.6" stroke="#111" stroke-width="0.9"/>
<line x1="652.42" y1="485.4" x2="652.42" y2="487.6" stroke="#111" stroke-width="0.9"/>
<line x1="655.2" y1="485.4" x2="655.2" y2="488.4" stroke="#111" stroke-width="0.9"/>
<text x="404.91" y="492.7" font-size="5" fill="#111" font-weight="bold" font-style="italic" text-anchor="middle" textLength="16.4" lengthAdjust="spacingAndGlyphs" stroke="#111" stroke-width="0.3">-400</text>
<text x="432.72" y="492.7" font-size="5" fill="#111" font-weight="bold" font-style="italic" text-anchor="middle" textLength="16.4" lengthAdjust="spacingAndGlyphs" stroke="#111" stroke-width="0.3">-300</text>
<text x="460.53" y="492.7" font-size="5" fill="#111" font-weight="bold" font-style="italic" text-anchor="middle" textLength="16.4" lengthAdjust="spacingAndGlyphs" stroke="#111" stroke-width="0.3">-200</text>
<text x="488.34" y="492.7" font-size="5" fill="#111" font-weight="bold" font-style="italic" text-anchor="middle" textLength="16.4" lengthAdjust="spacingAndGlyphs" stroke="#111" stroke-width="0.3">-100</text>
<text x="516.15" y="492.7" font-size="5" fill="#111" font-weight="bold" font-style="italic" text-anchor="middle" textLength="4.1" lengthAdjust="spacingAndGlyphs" stroke="#111" stroke-width="0.3">0</text>
<text x="543.96" y="492.7" font-size="5" fill="#111" font-weight="bold" font-style="italic" text-anchor="middle" textLength="12.3" lengthAdjust="spacingAndGlyphs" stroke="#111" stroke-width="0.3">100</text>
<text x="571.77" y="492.7" font-size="5" fill="#111" font-weight="bold" font-style="italic" text-anchor="middle" textLength="12.3" lengthAdjust="spacingAndGlyphs" stroke="#111" stroke-width="0.3">200</text>
<text x="599.58" y="492.7" font-size="5" fill="#111" font-weight="bold" font-style="italic" text-anchor="middle" textLength="12.3" lengthAdjust="spacingAndGlyphs" stroke="#111" stroke-width="0.3">300</text>
<text x="627.39" y="492.7" font-size="5" fill="#111" font-weight="bold" font-style="italic" text-anchor="middle" textLength="12.3" lengthAdjust="spacingAndGlyphs" stroke="#111" stroke-width="0.3">400</text>
<text x="655.2" y="492.7" font-size="5" fill="#111" font-weight="bold" font-style="italic" text-anchor="middle" textLength="12.3" lengthAdjust="spacingAndGlyphs" stroke="#111" stroke-width="0.3">500</text>
<text x="515.65" y="503" font-size="6" fill="#111" text-anchor="middle" textLength="72" lengthAdjust="spacingAndGlyphs" stroke="#111" stroke-width="0.25">Zeta Potential (mV)</text>
<text x="351.4" y="419.55" font-size="6.8" fill="#111" text-anchor="middle" textLength="32.8" lengthAdjust="spacingAndGlyphs" stroke="#111" stroke-width="0.25" transform="rotate(-90 351.4 419.55)">Intensity (a.u.)</text>
<polyline points="493,485.2 493.67,485.47 494.61,485.73 495.5,485 496.19,483.1 496.81,480.21 497.5,476 498.3,470.41 499.16,463.48 500,455 500.83,444.56 501.64,432.56 502.4,420 503.06,406.51 503.66,392.46 504.3,380 505.01,368.47 505.76,358.53 506.5,354.3 507.21,358.53 507.92,368.47 508.7,380 509.61,392.46 510.58,406.51 511.5,420 512.31,432.56 513.06,444.56 513.8,455 514.56,463.48 515.3,470.41 516,476 516.61,480.21 517.19,483.1 517.8,485 518.59,485.73 519.41,485.47 520,485.2" fill="none" stroke="#25297a" stroke-width="1.15" stroke-linejoin="round"/>
<text x="401.2" y="383.9" font-size="13.2" fill="#000" font-weight="bold" textLength="7.7" lengthAdjust="spacingAndGlyphs" stroke="#000" stroke-width="0.5">E</text>
<rect x="547" y="363.5" width="123" height="36" fill="#fcfcfc"/>
<text x="549.1" y="370" font-size="6.8" fill="#0a461e" font-weight="bold" textLength="60.5" lengthAdjust="spacingAndGlyphs" stroke="#0a461e" stroke-width="0.3">Calculation Results</text>
<rect x="549.1" y="370.9" width="96.2" height="17" fill="none" stroke="#8a4656" stroke-width="0.5"/>
<line x1="570.1" y1="370.9" x2="570.1" y2="387.9" stroke="#8a4656" stroke-width="0.5"/>
<line x1="598.1" y1="370.9" x2="598.1" y2="387.9" stroke="#8a4656" stroke-width="0.5"/>
<line x1="549.1" y1="375.25" x2="645.3" y2="375.25" stroke="#8a4656" stroke-width="0.5"/>
<line x1="549.1" y1="379.8" x2="645.3" y2="379.8" stroke="#8a4656" stroke-width="0.5"/>
<line x1="549.1" y1="383.9" x2="645.3" y2="383.9" stroke="#8a4656" stroke-width="0.5"/>
<text x="559.6" y="374.35" font-size="3.8" fill="#0a461e" font-weight="bold" text-anchor="middle" stroke="#0a461e" stroke-width="0.2">Peak No.</text>
<text x="584.1" y="374.35" font-size="3.8" fill="#0a461e" font-weight="bold" text-anchor="middle" stroke="#0a461e" stroke-width="0.2">Zeta Potential</text>
<text x="621.7" y="374.35" font-size="3.8" fill="#0a461e" font-weight="bold" text-anchor="middle" stroke="#0a461e" stroke-width="0.2">Electrophoretic Mobility</text>
<text x="559.6" y="378.9" font-size="3.8" fill="#0a461e" font-weight="bold" text-anchor="middle" stroke="#0a461e" stroke-width="0.2">1</text>
<text x="584.1" y="378.9" font-size="3.8" fill="#0a461e" font-weight="bold" text-anchor="middle" stroke="#0a461e" stroke-width="0.2">-34.3 mV</text>
<text x="621.7" y="378.9" font-size="3.8" fill="#0a461e" font-weight="bold" text-anchor="middle" stroke="#0a461e" stroke-width="0.2">-0.000266 cm2/Vs</text>
<text x="559.6" y="383" font-size="3.8" fill="#0a461e" font-weight="bold" text-anchor="middle" stroke="#0a461e" stroke-width="0.2">2</text>
<text x="584.1" y="383" font-size="3.8" fill="#0a461e" font-weight="bold" text-anchor="middle" stroke="#0a461e" stroke-width="0.2">--- mV</text>
<text x="621.7" y="383" font-size="3.8" fill="#0a461e" font-weight="bold" text-anchor="middle" stroke="#0a461e" stroke-width="0.2">--- cm2/Vs</text>
<text x="559.6" y="387" font-size="3.8" fill="#0a461e" font-weight="bold" text-anchor="middle" stroke="#0a461e" stroke-width="0.2">3</text>
<text x="584.1" y="387" font-size="3.8" fill="#0a461e" font-weight="bold" text-anchor="middle" stroke="#0a461e" stroke-width="0.2">--- mV</text>
<text x="621.7" y="387" font-size="3.8" fill="#0a461e" font-weight="bold" text-anchor="middle" stroke="#0a461e" stroke-width="0.2">--- cm2/Vs</text>
<text x="549.1" y="392.8" font-size="4.7" fill="#0a461e" font-weight="bold" textLength="46.5" lengthAdjust="spacingAndGlyphs" stroke="#0a461e" stroke-width="0.3">Zeta Potential (Mean)</text>
<text x="549.1" y="398.3" font-size="4.7" fill="#0a461e" font-weight="bold" textLength="65.9" lengthAdjust="spacingAndGlyphs" stroke="#0a461e" stroke-width="0.3">Electrophoretic Mobility Mean</text>
<text x="624.3" y="392.8" font-size="4.7" fill="#0a461e" font-weight="bold">:</text>
<text x="624.3" y="398.3" font-size="4.7" fill="#0a461e" font-weight="bold">:</text>
<text x="628.4" y="392.8" font-size="4.7" fill="#0a461e" font-weight="bold" textLength="19.4" lengthAdjust="spacingAndGlyphs" stroke="#0a461e" stroke-width="0.3">-34.3 mV</text>
<text x="628.4" y="398.3" font-size="4.7" fill="#0a461e" font-weight="bold" textLength="38" lengthAdjust="spacingAndGlyphs" stroke="#0a461e" stroke-width="0.3">-0.000266 cm2/Vs</text>
</svg>
</body></html>
